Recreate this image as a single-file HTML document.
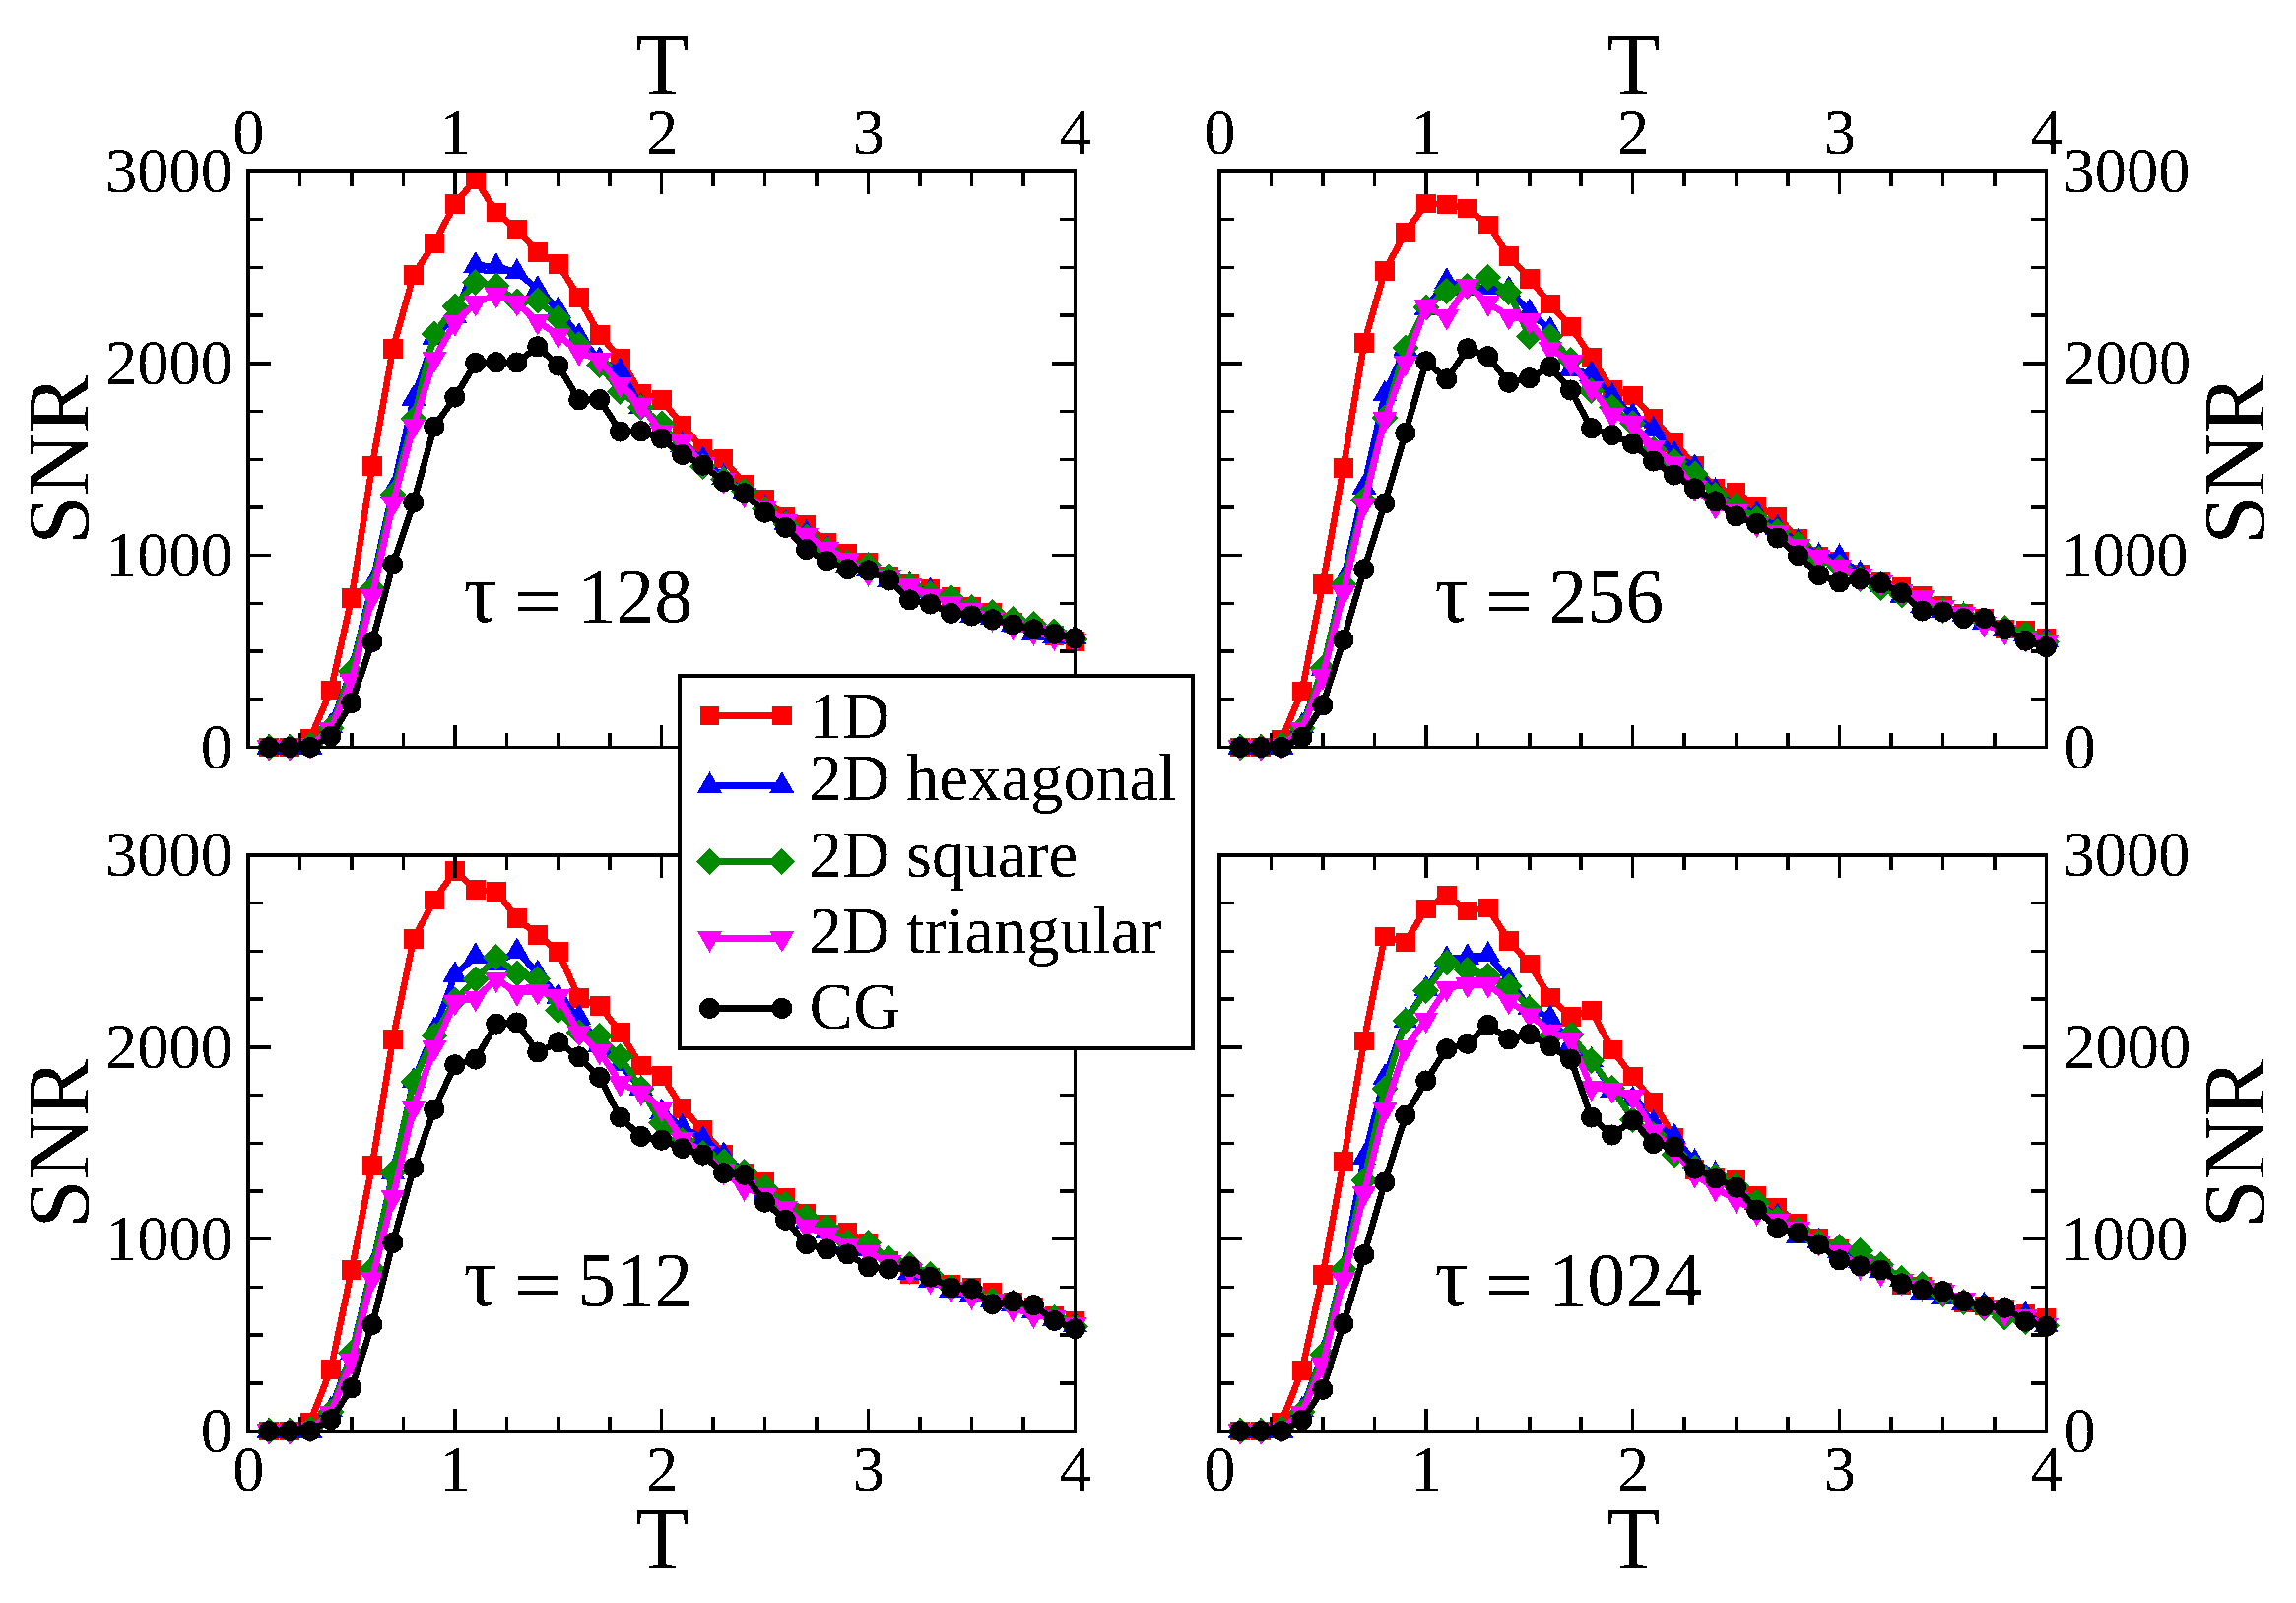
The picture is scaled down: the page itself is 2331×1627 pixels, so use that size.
<!DOCTYPE html>
<html><head><meta charset="utf-8"><title>SNR</title>
<style>
html,body{margin:0;padding:0;background:#fff;}
svg{display:block}
text{font-family:"Liberation Serif",serif;fill:#000}
.tk{font-size:64.5px}
.ax{font-size:88.5px}
.an{font-size:78px}
.lg{font-size:66.8px}
</style></head><body>
<svg width="2331" height="1627" viewBox="0 0 2331 1627">
<rect width="2331" height="1627" fill="#fff"/>

<g shape-rendering="crispEdges">
<g><polyline fill="none" stroke="#ff0000" stroke-width="6.6" stroke-linejoin="round" points="273.0,758.5 294.0,758.5 315.0,749.8 335.9,700.6 356.9,607.0 377.9,472.9 398.9,353.9 419.9,278.9 440.9,246.8 461.9,207.1 482.8,181.8 503.8,215.4 524.8,232.9 545.8,256.0 566.8,267.9 587.8,301.9 608.7,340.0 629.7,363.8 650.7,399.8 671.7,405.8 692.7,431.8 713.7,455.5 734.7,465.7 755.6,491.9 776.6,506.9 797.6,524.8 818.6,532.9 839.6,550.9 860.6,561.8 881.5,571.0 902.5,585.0 923.5,593.0 944.5,597.9 965.5,605.8 986.5,616.0 1007.5,621.9 1028.4,631.7 1049.4,637.7 1070.4,644.9 1091.4,650.8"/>
<rect x="263.2" y="748.8" width="19.5" height="19.5" fill="#ff0000"/>
<rect x="284.2" y="748.8" width="19.5" height="19.5" fill="#ff0000"/>
<rect x="305.2" y="740.0" width="19.5" height="19.5" fill="#ff0000"/>
<rect x="326.2" y="690.9" width="19.5" height="19.5" fill="#ff0000"/>
<rect x="347.2" y="597.2" width="19.5" height="19.5" fill="#ff0000"/>
<rect x="368.2" y="463.1" width="19.5" height="19.5" fill="#ff0000"/>
<rect x="389.1" y="344.1" width="19.5" height="19.5" fill="#ff0000"/>
<rect x="410.1" y="269.1" width="19.5" height="19.5" fill="#ff0000"/>
<rect x="431.1" y="237.1" width="19.5" height="19.5" fill="#ff0000"/>
<rect x="452.1" y="197.3" width="19.5" height="19.5" fill="#ff0000"/>
<rect x="473.1" y="172.1" width="19.5" height="19.5" fill="#ff0000"/>
<rect x="494.1" y="205.7" width="19.5" height="19.5" fill="#ff0000"/>
<rect x="515.1" y="223.2" width="19.5" height="19.5" fill="#ff0000"/>
<rect x="536.0" y="246.2" width="19.5" height="19.5" fill="#ff0000"/>
<rect x="557.0" y="258.1" width="19.5" height="19.5" fill="#ff0000"/>
<rect x="578.0" y="292.1" width="19.5" height="19.5" fill="#ff0000"/>
<rect x="599.0" y="330.2" width="19.5" height="19.5" fill="#ff0000"/>
<rect x="620.0" y="354.1" width="19.5" height="19.5" fill="#ff0000"/>
<rect x="641.0" y="390.1" width="19.5" height="19.5" fill="#ff0000"/>
<rect x="662.0" y="396.1" width="19.5" height="19.5" fill="#ff0000"/>
<rect x="682.9" y="422.1" width="19.5" height="19.5" fill="#ff0000"/>
<rect x="703.9" y="445.8" width="19.5" height="19.5" fill="#ff0000"/>
<rect x="724.9" y="455.9" width="19.5" height="19.5" fill="#ff0000"/>
<rect x="745.9" y="482.1" width="19.5" height="19.5" fill="#ff0000"/>
<rect x="766.9" y="497.1" width="19.5" height="19.5" fill="#ff0000"/>
<rect x="787.9" y="515.0" width="19.5" height="19.5" fill="#ff0000"/>
<rect x="808.8" y="523.1" width="19.5" height="19.5" fill="#ff0000"/>
<rect x="829.8" y="541.1" width="19.5" height="19.5" fill="#ff0000"/>
<rect x="850.8" y="552.0" width="19.5" height="19.5" fill="#ff0000"/>
<rect x="871.8" y="561.2" width="19.5" height="19.5" fill="#ff0000"/>
<rect x="892.8" y="575.2" width="19.5" height="19.5" fill="#ff0000"/>
<rect x="913.8" y="583.2" width="19.5" height="19.5" fill="#ff0000"/>
<rect x="934.8" y="588.1" width="19.5" height="19.5" fill="#ff0000"/>
<rect x="955.7" y="596.0" width="19.5" height="19.5" fill="#ff0000"/>
<rect x="976.7" y="606.2" width="19.5" height="19.5" fill="#ff0000"/>
<rect x="997.7" y="612.1" width="19.5" height="19.5" fill="#ff0000"/>
<rect x="1018.7" y="622.0" width="19.5" height="19.5" fill="#ff0000"/>
<rect x="1039.7" y="628.0" width="19.5" height="19.5" fill="#ff0000"/>
<rect x="1060.7" y="635.1" width="19.5" height="19.5" fill="#ff0000"/>
<rect x="1081.7" y="641.0" width="19.5" height="19.5" fill="#ff0000"/>
<polyline fill="none" stroke="#0000ff" stroke-width="6.6" stroke-linejoin="round" points="273.0,758.5 294.0,758.5 315.0,758.5 335.9,737.2 356.9,680.0 377.9,593.0 398.9,497.3 419.9,404.5 440.9,342.5 461.9,321.2 482.8,269.3 503.8,270.5 524.8,276.2 545.8,293.4 566.8,314.4 587.8,341.3 608.7,365.6 629.7,376.5 650.7,412.5 671.7,435.0 692.7,451.4 713.7,466.4 734.7,484.4 755.6,499.0 776.6,516.0 797.6,531.0 818.6,541.3 839.6,557.0 860.6,574.3 881.5,578.0 902.5,589.0 923.5,594.0 944.5,600.0 965.5,614.0 986.5,624.8 1007.5,627.0 1028.4,633.3 1049.4,642.5 1070.4,646.0 1091.4,647.2"/>
<polygon points="273.0,744.2 260.6,765.7 285.4,765.7" fill="#0000ff"/>
<polygon points="294.0,744.2 281.6,765.7 306.4,765.7" fill="#0000ff"/>
<polygon points="315.0,744.2 302.6,765.7 327.4,765.7" fill="#0000ff"/>
<polygon points="335.9,722.9 323.5,744.4 348.3,744.4" fill="#0000ff"/>
<polygon points="356.9,665.7 344.5,687.2 369.3,687.2" fill="#0000ff"/>
<polygon points="377.9,578.7 365.5,600.2 390.3,600.2" fill="#0000ff"/>
<polygon points="398.9,483.0 386.5,504.5 411.3,504.5" fill="#0000ff"/>
<polygon points="419.9,390.2 407.5,411.7 432.3,411.7" fill="#0000ff"/>
<polygon points="440.9,328.2 428.5,349.7 453.3,349.7" fill="#0000ff"/>
<polygon points="461.9,306.9 449.5,328.4 474.2,328.4" fill="#0000ff"/>
<polygon points="482.8,255.0 470.4,276.5 495.2,276.5" fill="#0000ff"/>
<polygon points="503.8,256.2 491.4,277.7 516.2,277.7" fill="#0000ff"/>
<polygon points="524.8,261.9 512.4,283.4 537.2,283.4" fill="#0000ff"/>
<polygon points="545.8,279.1 533.4,300.6 558.2,300.6" fill="#0000ff"/>
<polygon points="566.8,300.1 554.4,321.6 579.2,321.6" fill="#0000ff"/>
<polygon points="587.8,327.0 575.4,348.5 600.2,348.5" fill="#0000ff"/>
<polygon points="608.7,351.3 596.3,372.8 621.1,372.8" fill="#0000ff"/>
<polygon points="629.7,362.2 617.3,383.7 642.1,383.7" fill="#0000ff"/>
<polygon points="650.7,398.2 638.3,419.7 663.1,419.7" fill="#0000ff"/>
<polygon points="671.7,420.7 659.3,442.2 684.1,442.2" fill="#0000ff"/>
<polygon points="692.7,437.1 680.3,458.6 705.1,458.6" fill="#0000ff"/>
<polygon points="713.7,452.1 701.3,473.6 726.1,473.6" fill="#0000ff"/>
<polygon points="734.7,470.1 722.3,491.6 747.1,491.6" fill="#0000ff"/>
<polygon points="755.6,484.7 743.2,506.2 768.0,506.2" fill="#0000ff"/>
<polygon points="776.6,501.7 764.2,523.2 789.0,523.2" fill="#0000ff"/>
<polygon points="797.6,516.7 785.2,538.2 810.0,538.2" fill="#0000ff"/>
<polygon points="818.6,527.0 806.2,548.5 831.0,548.5" fill="#0000ff"/>
<polygon points="839.6,542.7 827.2,564.2 852.0,564.2" fill="#0000ff"/>
<polygon points="860.6,560.0 848.2,581.5 873.0,581.5" fill="#0000ff"/>
<polygon points="881.5,563.7 869.1,585.2 893.9,585.2" fill="#0000ff"/>
<polygon points="902.5,574.7 890.1,596.2 914.9,596.2" fill="#0000ff"/>
<polygon points="923.5,579.7 911.1,601.2 935.9,601.2" fill="#0000ff"/>
<polygon points="944.5,585.7 932.1,607.2 956.9,607.2" fill="#0000ff"/>
<polygon points="965.5,599.7 953.1,621.2 977.9,621.2" fill="#0000ff"/>
<polygon points="986.5,610.5 974.1,632.0 998.9,632.0" fill="#0000ff"/>
<polygon points="1007.5,612.7 995.1,634.2 1019.9,634.2" fill="#0000ff"/>
<polygon points="1028.4,619.0 1016.0,640.5 1040.8,640.5" fill="#0000ff"/>
<polygon points="1049.4,628.2 1037.0,649.7 1061.8,649.7" fill="#0000ff"/>
<polygon points="1070.4,631.7 1058.0,653.2 1082.8,653.2" fill="#0000ff"/>
<polygon points="1091.4,632.9 1079.0,654.4 1103.8,654.4" fill="#0000ff"/>
<polyline fill="none" stroke="#008b00" stroke-width="6.6" stroke-linejoin="round" points="273.0,758.5 294.0,758.5 315.0,756.4 335.9,739.4 356.9,681.5 377.9,597.0 398.9,501.8 419.9,425.2 440.9,339.2 461.9,310.8 482.8,286.7 503.8,290.0 524.8,306.1 545.8,305.0 566.8,322.6 587.8,349.5 608.7,370.3 629.7,397.5 650.7,413.3 671.7,430.2 692.7,455.4 713.7,473.6 734.7,486.5 755.6,498.3 776.6,516.3 797.6,532.0 818.6,545.0 839.6,558.1 860.6,571.2 881.5,573.3 902.5,585.0 923.5,594.1 944.5,602.3 965.5,606.1 986.5,616.2 1007.5,621.9 1028.4,628.8 1049.4,633.5 1070.4,641.1 1091.4,649.0"/>
<polygon points="273.0,745.0 259.5,758.5 273.0,772.0 286.5,758.5" fill="#008b00"/>
<polygon points="294.0,745.0 280.5,758.5 294.0,772.0 307.5,758.5" fill="#008b00"/>
<polygon points="315.0,742.9 301.5,756.4 315.0,769.9 328.5,756.4" fill="#008b00"/>
<polygon points="335.9,725.9 322.4,739.4 335.9,752.9 349.4,739.4" fill="#008b00"/>
<polygon points="356.9,668.0 343.4,681.5 356.9,695.0 370.4,681.5" fill="#008b00"/>
<polygon points="377.9,583.5 364.4,597.0 377.9,610.5 391.4,597.0" fill="#008b00"/>
<polygon points="398.9,488.3 385.4,501.8 398.9,515.3 412.4,501.8" fill="#008b00"/>
<polygon points="419.9,411.7 406.4,425.2 419.9,438.7 433.4,425.2" fill="#008b00"/>
<polygon points="440.9,325.7 427.4,339.2 440.9,352.7 454.4,339.2" fill="#008b00"/>
<polygon points="461.9,297.3 448.4,310.8 461.9,324.3 475.4,310.8" fill="#008b00"/>
<polygon points="482.8,273.2 469.3,286.7 482.8,300.2 496.3,286.7" fill="#008b00"/>
<polygon points="503.8,276.5 490.3,290.0 503.8,303.5 517.3,290.0" fill="#008b00"/>
<polygon points="524.8,292.6 511.3,306.1 524.8,319.6 538.3,306.1" fill="#008b00"/>
<polygon points="545.8,291.5 532.3,305.0 545.8,318.5 559.3,305.0" fill="#008b00"/>
<polygon points="566.8,309.1 553.3,322.6 566.8,336.1 580.3,322.6" fill="#008b00"/>
<polygon points="587.8,336.0 574.3,349.5 587.8,363.0 601.3,349.5" fill="#008b00"/>
<polygon points="608.7,356.8 595.2,370.3 608.7,383.8 622.2,370.3" fill="#008b00"/>
<polygon points="629.7,384.0 616.2,397.5 629.7,411.0 643.2,397.5" fill="#008b00"/>
<polygon points="650.7,399.8 637.2,413.3 650.7,426.8 664.2,413.3" fill="#008b00"/>
<polygon points="671.7,416.7 658.2,430.2 671.7,443.7 685.2,430.2" fill="#008b00"/>
<polygon points="692.7,441.9 679.2,455.4 692.7,468.9 706.2,455.4" fill="#008b00"/>
<polygon points="713.7,460.1 700.2,473.6 713.7,487.1 727.2,473.6" fill="#008b00"/>
<polygon points="734.7,473.0 721.2,486.5 734.7,500.0 748.2,486.5" fill="#008b00"/>
<polygon points="755.6,484.8 742.1,498.3 755.6,511.8 769.1,498.3" fill="#008b00"/>
<polygon points="776.6,502.8 763.1,516.3 776.6,529.8 790.1,516.3" fill="#008b00"/>
<polygon points="797.6,518.5 784.1,532.0 797.6,545.5 811.1,532.0" fill="#008b00"/>
<polygon points="818.6,531.5 805.1,545.0 818.6,558.5 832.1,545.0" fill="#008b00"/>
<polygon points="839.6,544.6 826.1,558.1 839.6,571.6 853.1,558.1" fill="#008b00"/>
<polygon points="860.6,557.7 847.1,571.2 860.6,584.7 874.1,571.2" fill="#008b00"/>
<polygon points="881.5,559.8 868.0,573.3 881.5,586.8 895.0,573.3" fill="#008b00"/>
<polygon points="902.5,571.5 889.0,585.0 902.5,598.5 916.0,585.0" fill="#008b00"/>
<polygon points="923.5,580.6 910.0,594.1 923.5,607.6 937.0,594.1" fill="#008b00"/>
<polygon points="944.5,588.8 931.0,602.3 944.5,615.8 958.0,602.3" fill="#008b00"/>
<polygon points="965.5,592.6 952.0,606.1 965.5,619.6 979.0,606.1" fill="#008b00"/>
<polygon points="986.5,602.7 973.0,616.2 986.5,629.7 1000.0,616.2" fill="#008b00"/>
<polygon points="1007.5,608.4 994.0,621.9 1007.5,635.4 1021.0,621.9" fill="#008b00"/>
<polygon points="1028.4,615.3 1014.9,628.8 1028.4,642.3 1041.9,628.8" fill="#008b00"/>
<polygon points="1049.4,620.0 1035.9,633.5 1049.4,647.0 1062.9,633.5" fill="#008b00"/>
<polygon points="1070.4,627.6 1056.9,641.1 1070.4,654.6 1083.9,641.1" fill="#008b00"/>
<polygon points="1091.4,635.5 1077.9,649.0 1091.4,662.5 1104.9,649.0" fill="#008b00"/>
<polyline fill="none" stroke="#ff00ff" stroke-width="6.6" stroke-linejoin="round" points="273.0,758.5 294.0,758.5 315.0,756.5 335.9,740.4 356.9,691.0 377.9,605.4 398.9,511.0 419.9,431.9 440.9,364.4 461.9,327.4 482.8,307.2 503.8,299.2 524.8,307.2 545.8,326.2 566.8,340.1 587.8,357.6 608.7,365.6 629.7,390.0 650.7,411.6 671.7,438.3 692.7,448.3 713.7,471.4 734.7,487.5 755.6,502.0 776.6,515.4 797.6,529.6 818.6,543.1 839.6,557.2 860.6,568.2 881.5,581.6 902.5,586.1 923.5,594.4 944.5,605.1 965.5,612.0 986.5,619.0 1007.5,627.7 1028.4,635.9 1049.4,641.6 1070.4,646.6 1091.4,649.8"/>
<polygon points="273.0,772.8 260.6,751.3 285.4,751.3" fill="#ff00ff"/>
<polygon points="294.0,772.8 281.6,751.3 306.4,751.3" fill="#ff00ff"/>
<polygon points="315.0,770.8 302.6,749.3 327.4,749.3" fill="#ff00ff"/>
<polygon points="335.9,754.7 323.5,733.2 348.3,733.2" fill="#ff00ff"/>
<polygon points="356.9,705.3 344.5,683.8 369.3,683.8" fill="#ff00ff"/>
<polygon points="377.9,619.7 365.5,598.2 390.3,598.2" fill="#ff00ff"/>
<polygon points="398.9,525.3 386.5,503.8 411.3,503.8" fill="#ff00ff"/>
<polygon points="419.9,446.2 407.5,424.7 432.3,424.7" fill="#ff00ff"/>
<polygon points="440.9,378.7 428.5,357.2 453.3,357.2" fill="#ff00ff"/>
<polygon points="461.9,341.7 449.5,320.2 474.2,320.2" fill="#ff00ff"/>
<polygon points="482.8,321.5 470.4,300.0 495.2,300.0" fill="#ff00ff"/>
<polygon points="503.8,313.5 491.4,292.0 516.2,292.0" fill="#ff00ff"/>
<polygon points="524.8,321.5 512.4,300.0 537.2,300.0" fill="#ff00ff"/>
<polygon points="545.8,340.5 533.4,319.0 558.2,319.0" fill="#ff00ff"/>
<polygon points="566.8,354.4 554.4,332.9 579.2,332.9" fill="#ff00ff"/>
<polygon points="587.8,371.9 575.4,350.4 600.2,350.4" fill="#ff00ff"/>
<polygon points="608.7,379.9 596.3,358.4 621.1,358.4" fill="#ff00ff"/>
<polygon points="629.7,404.3 617.3,382.8 642.1,382.8" fill="#ff00ff"/>
<polygon points="650.7,425.9 638.3,404.4 663.1,404.4" fill="#ff00ff"/>
<polygon points="671.7,452.6 659.3,431.1 684.1,431.1" fill="#ff00ff"/>
<polygon points="692.7,462.6 680.3,441.1 705.1,441.1" fill="#ff00ff"/>
<polygon points="713.7,485.7 701.3,464.2 726.1,464.2" fill="#ff00ff"/>
<polygon points="734.7,501.8 722.3,480.3 747.1,480.3" fill="#ff00ff"/>
<polygon points="755.6,516.3 743.2,494.8 768.0,494.8" fill="#ff00ff"/>
<polygon points="776.6,529.7 764.2,508.2 789.0,508.2" fill="#ff00ff"/>
<polygon points="797.6,543.9 785.2,522.4 810.0,522.4" fill="#ff00ff"/>
<polygon points="818.6,557.4 806.2,535.9 831.0,535.9" fill="#ff00ff"/>
<polygon points="839.6,571.5 827.2,550.0 852.0,550.0" fill="#ff00ff"/>
<polygon points="860.6,582.5 848.2,561.0 873.0,561.0" fill="#ff00ff"/>
<polygon points="881.5,595.9 869.1,574.4 893.9,574.4" fill="#ff00ff"/>
<polygon points="902.5,600.4 890.1,578.9 914.9,578.9" fill="#ff00ff"/>
<polygon points="923.5,608.7 911.1,587.2 935.9,587.2" fill="#ff00ff"/>
<polygon points="944.5,619.4 932.1,597.9 956.9,597.9" fill="#ff00ff"/>
<polygon points="965.5,626.3 953.1,604.8 977.9,604.8" fill="#ff00ff"/>
<polygon points="986.5,633.3 974.1,611.8 998.9,611.8" fill="#ff00ff"/>
<polygon points="1007.5,642.0 995.1,620.5 1019.9,620.5" fill="#ff00ff"/>
<polygon points="1028.4,650.2 1016.0,628.7 1040.8,628.7" fill="#ff00ff"/>
<polygon points="1049.4,655.9 1037.0,634.4 1061.8,634.4" fill="#ff00ff"/>
<polygon points="1070.4,660.9 1058.0,639.4 1082.8,639.4" fill="#ff00ff"/>
<polygon points="1091.4,664.1 1079.0,642.6 1103.8,642.6" fill="#ff00ff"/>
<polyline fill="none" stroke="#000000" stroke-width="6.6" stroke-linejoin="round" points="273.0,758.5 294.0,758.5 315.0,758.5 335.9,747.2 356.9,713.5 377.9,651.5 398.9,573.0 419.9,510.1 440.9,433.2 461.9,403.1 482.8,368.4 503.8,367.7 524.8,368.0 545.8,351.9 566.8,371.1 587.8,405.9 608.7,405.6 629.7,438.1 650.7,437.8 671.7,445.0 692.7,461.5 713.7,472.3 734.7,488.7 755.6,500.7 776.6,520.2 797.6,535.5 818.6,557.6 839.6,569.7 860.6,577.7 881.5,578.9 902.5,589.0 923.5,608.9 944.5,613.0 965.5,622.5 986.5,625.0 1007.5,628.8 1028.4,634.1 1049.4,638.9 1070.4,643.4 1091.4,647.8"/>
<circle cx="273.0" cy="758.5" r="10.55" fill="#000000"/>
<circle cx="294.0" cy="758.5" r="10.55" fill="#000000"/>
<circle cx="315.0" cy="758.5" r="10.55" fill="#000000"/>
<circle cx="335.9" cy="747.2" r="10.55" fill="#000000"/>
<circle cx="356.9" cy="713.5" r="10.55" fill="#000000"/>
<circle cx="377.9" cy="651.5" r="10.55" fill="#000000"/>
<circle cx="398.9" cy="573.0" r="10.55" fill="#000000"/>
<circle cx="419.9" cy="510.1" r="10.55" fill="#000000"/>
<circle cx="440.9" cy="433.2" r="10.55" fill="#000000"/>
<circle cx="461.9" cy="403.1" r="10.55" fill="#000000"/>
<circle cx="482.8" cy="368.4" r="10.55" fill="#000000"/>
<circle cx="503.8" cy="367.7" r="10.55" fill="#000000"/>
<circle cx="524.8" cy="368.0" r="10.55" fill="#000000"/>
<circle cx="545.8" cy="351.9" r="10.55" fill="#000000"/>
<circle cx="566.8" cy="371.1" r="10.55" fill="#000000"/>
<circle cx="587.8" cy="405.9" r="10.55" fill="#000000"/>
<circle cx="608.7" cy="405.6" r="10.55" fill="#000000"/>
<circle cx="629.7" cy="438.1" r="10.55" fill="#000000"/>
<circle cx="650.7" cy="437.8" r="10.55" fill="#000000"/>
<circle cx="671.7" cy="445.0" r="10.55" fill="#000000"/>
<circle cx="692.7" cy="461.5" r="10.55" fill="#000000"/>
<circle cx="713.7" cy="472.3" r="10.55" fill="#000000"/>
<circle cx="734.7" cy="488.7" r="10.55" fill="#000000"/>
<circle cx="755.6" cy="500.7" r="10.55" fill="#000000"/>
<circle cx="776.6" cy="520.2" r="10.55" fill="#000000"/>
<circle cx="797.6" cy="535.5" r="10.55" fill="#000000"/>
<circle cx="818.6" cy="557.6" r="10.55" fill="#000000"/>
<circle cx="839.6" cy="569.7" r="10.55" fill="#000000"/>
<circle cx="860.6" cy="577.7" r="10.55" fill="#000000"/>
<circle cx="881.5" cy="578.9" r="10.55" fill="#000000"/>
<circle cx="902.5" cy="589.0" r="10.55" fill="#000000"/>
<circle cx="923.5" cy="608.9" r="10.55" fill="#000000"/>
<circle cx="944.5" cy="613.0" r="10.55" fill="#000000"/>
<circle cx="965.5" cy="622.5" r="10.55" fill="#000000"/>
<circle cx="986.5" cy="625.0" r="10.55" fill="#000000"/>
<circle cx="1007.5" cy="628.8" r="10.55" fill="#000000"/>
<circle cx="1028.4" cy="634.1" r="10.55" fill="#000000"/>
<circle cx="1049.4" cy="638.9" r="10.55" fill="#000000"/>
<circle cx="1070.4" cy="643.4" r="10.55" fill="#000000"/>
<circle cx="1091.4" cy="647.8" r="10.55" fill="#000000"/>
<path d="M304.46,174.00v15M304.46,758.50v-15M356.93,174.00v15M356.93,758.50v-15M409.39,174.00v15M409.39,758.50v-15M461.85,174.00v23M461.85,758.50v-23M514.31,174.00v15M514.31,758.50v-15M566.77,174.00v15M566.77,758.50v-15M619.24,174.00v15M619.24,758.50v-15M671.70,174.00v23M671.70,758.50v-23M724.16,174.00v15M724.16,758.50v-15M776.62,174.00v15M776.62,758.50v-15M829.09,174.00v15M829.09,758.50v-15M881.55,174.00v23M881.55,758.50v-23M934.01,174.00v15M934.01,758.50v-15M986.48,174.00v15M986.48,758.50v-15M1038.94,174.00v15M1038.94,758.50v-15M252.00,709.79h15M1091.40,709.79h-15M252.00,661.08h15M1091.40,661.08h-15M252.00,612.38h15M1091.40,612.38h-15M252.00,563.67h23M1091.40,563.67h-23M252.00,514.96h15M1091.40,514.96h-15M252.00,466.25h15M1091.40,466.25h-15M252.00,417.54h15M1091.40,417.54h-15M252.00,368.83h23M1091.40,368.83h-23M252.00,320.12h15M1091.40,320.12h-15M252.00,271.42h15M1091.40,271.42h-15M252.00,222.71h15M1091.40,222.71h-15" stroke="#000" stroke-width="3.5" fill="none"/>
<path fill-rule="evenodd" fill="#000" d="M250,172H1093V760H250ZM254,176H1090V757H254Z"/></g>
<g><polyline fill="none" stroke="#ff0000" stroke-width="6.6" stroke-linejoin="round" points="1259.0,758.5 1280.0,758.5 1301.0,750.6 1321.9,701.4 1342.9,593.0 1363.9,474.9 1384.9,348.2 1405.9,274.8 1426.9,236.0 1447.8,206.6 1468.8,207.7 1489.8,211.5 1510.8,228.5 1531.8,259.8 1552.8,282.8 1573.8,308.7 1594.7,331.4 1615.7,362.7 1636.7,396.0 1657.7,401.6 1678.7,424.9 1699.7,448.8 1720.7,472.8 1741.6,496.0 1762.6,499.7 1783.6,513.7 1804.6,524.9 1825.6,546.7 1846.6,564.6 1867.5,570.0 1888.5,582.5 1909.5,590.3 1930.5,595.6 1951.5,605.0 1972.5,614.6 1993.5,622.5 2014.4,627.6 2035.4,638.3 2056.4,639.6 2077.4,647.5"/>
<rect x="1249.2" y="748.8" width="19.5" height="19.5" fill="#ff0000"/>
<rect x="1270.2" y="748.8" width="19.5" height="19.5" fill="#ff0000"/>
<rect x="1291.2" y="740.9" width="19.5" height="19.5" fill="#ff0000"/>
<rect x="1312.2" y="691.6" width="19.5" height="19.5" fill="#ff0000"/>
<rect x="1333.2" y="583.2" width="19.5" height="19.5" fill="#ff0000"/>
<rect x="1354.2" y="465.1" width="19.5" height="19.5" fill="#ff0000"/>
<rect x="1375.1" y="338.4" width="19.5" height="19.5" fill="#ff0000"/>
<rect x="1396.1" y="265.1" width="19.5" height="19.5" fill="#ff0000"/>
<rect x="1417.1" y="226.2" width="19.5" height="19.5" fill="#ff0000"/>
<rect x="1438.1" y="196.8" width="19.5" height="19.5" fill="#ff0000"/>
<rect x="1459.1" y="197.9" width="19.5" height="19.5" fill="#ff0000"/>
<rect x="1480.1" y="201.8" width="19.5" height="19.5" fill="#ff0000"/>
<rect x="1501.1" y="218.8" width="19.5" height="19.5" fill="#ff0000"/>
<rect x="1522.0" y="250.1" width="19.5" height="19.5" fill="#ff0000"/>
<rect x="1543.0" y="273.1" width="19.5" height="19.5" fill="#ff0000"/>
<rect x="1564.0" y="298.9" width="19.5" height="19.5" fill="#ff0000"/>
<rect x="1585.0" y="321.6" width="19.5" height="19.5" fill="#ff0000"/>
<rect x="1606.0" y="352.9" width="19.5" height="19.5" fill="#ff0000"/>
<rect x="1627.0" y="386.2" width="19.5" height="19.5" fill="#ff0000"/>
<rect x="1648.0" y="391.9" width="19.5" height="19.5" fill="#ff0000"/>
<rect x="1668.9" y="415.1" width="19.5" height="19.5" fill="#ff0000"/>
<rect x="1689.9" y="439.1" width="19.5" height="19.5" fill="#ff0000"/>
<rect x="1710.9" y="463.1" width="19.5" height="19.5" fill="#ff0000"/>
<rect x="1731.9" y="486.2" width="19.5" height="19.5" fill="#ff0000"/>
<rect x="1752.9" y="489.9" width="19.5" height="19.5" fill="#ff0000"/>
<rect x="1773.9" y="504.0" width="19.5" height="19.5" fill="#ff0000"/>
<rect x="1794.8" y="515.1" width="19.5" height="19.5" fill="#ff0000"/>
<rect x="1815.8" y="537.0" width="19.5" height="19.5" fill="#ff0000"/>
<rect x="1836.8" y="554.9" width="19.5" height="19.5" fill="#ff0000"/>
<rect x="1857.8" y="560.2" width="19.5" height="19.5" fill="#ff0000"/>
<rect x="1878.8" y="572.8" width="19.5" height="19.5" fill="#ff0000"/>
<rect x="1899.8" y="580.5" width="19.5" height="19.5" fill="#ff0000"/>
<rect x="1920.8" y="585.9" width="19.5" height="19.5" fill="#ff0000"/>
<rect x="1941.7" y="595.2" width="19.5" height="19.5" fill="#ff0000"/>
<rect x="1962.7" y="604.9" width="19.5" height="19.5" fill="#ff0000"/>
<rect x="1983.7" y="612.8" width="19.5" height="19.5" fill="#ff0000"/>
<rect x="2004.7" y="617.9" width="19.5" height="19.5" fill="#ff0000"/>
<rect x="2025.7" y="628.5" width="19.5" height="19.5" fill="#ff0000"/>
<rect x="2046.7" y="629.9" width="19.5" height="19.5" fill="#ff0000"/>
<rect x="2067.7" y="637.8" width="19.5" height="19.5" fill="#ff0000"/>
<polyline fill="none" stroke="#0000ff" stroke-width="6.6" stroke-linejoin="round" points="1259.0,758.5 1280.0,758.5 1301.0,758.5 1321.9,737.0 1342.9,679.2 1363.9,589.0 1384.9,494.4 1405.9,400.0 1426.9,353.7 1447.8,313.0 1468.8,285.4 1489.8,293.0 1510.8,291.9 1531.8,293.6 1552.8,316.8 1573.8,334.8 1594.7,375.0 1615.7,379.6 1636.7,402.1 1657.7,422.0 1678.7,435.7 1699.7,460.4 1720.7,474.5 1741.6,498.3 1762.6,514.0 1783.6,521.5 1804.6,535.7 1825.6,550.5 1846.6,564.3 1867.5,565.4 1888.5,582.2 1909.5,594.1 1930.5,605.2 1951.5,615.0 1972.5,619.7 1993.5,624.2 2014.4,631.5 2035.4,638.3 2056.4,643.7 2077.4,649.4"/>
<polygon points="1259.0,744.2 1246.6,765.7 1271.4,765.7" fill="#0000ff"/>
<polygon points="1280.0,744.2 1267.6,765.7 1292.4,765.7" fill="#0000ff"/>
<polygon points="1301.0,744.2 1288.6,765.7 1313.4,765.7" fill="#0000ff"/>
<polygon points="1321.9,722.7 1309.5,744.2 1334.3,744.2" fill="#0000ff"/>
<polygon points="1342.9,664.9 1330.5,686.4 1355.3,686.4" fill="#0000ff"/>
<polygon points="1363.9,574.7 1351.5,596.2 1376.3,596.2" fill="#0000ff"/>
<polygon points="1384.9,480.1 1372.5,501.6 1397.3,501.6" fill="#0000ff"/>
<polygon points="1405.9,385.7 1393.5,407.2 1418.3,407.2" fill="#0000ff"/>
<polygon points="1426.9,339.4 1414.5,360.9 1439.3,360.9" fill="#0000ff"/>
<polygon points="1447.8,298.7 1435.4,320.2 1460.2,320.2" fill="#0000ff"/>
<polygon points="1468.8,271.1 1456.4,292.6 1481.2,292.6" fill="#0000ff"/>
<polygon points="1489.8,278.7 1477.4,300.2 1502.2,300.2" fill="#0000ff"/>
<polygon points="1510.8,277.6 1498.4,299.1 1523.2,299.1" fill="#0000ff"/>
<polygon points="1531.8,279.3 1519.4,300.8 1544.2,300.8" fill="#0000ff"/>
<polygon points="1552.8,302.5 1540.4,324.0 1565.2,324.0" fill="#0000ff"/>
<polygon points="1573.8,320.5 1561.4,342.0 1586.2,342.0" fill="#0000ff"/>
<polygon points="1594.7,360.7 1582.3,382.2 1607.1,382.2" fill="#0000ff"/>
<polygon points="1615.7,365.3 1603.3,386.8 1628.1,386.8" fill="#0000ff"/>
<polygon points="1636.7,387.8 1624.3,409.3 1649.1,409.3" fill="#0000ff"/>
<polygon points="1657.7,407.7 1645.3,429.2 1670.1,429.2" fill="#0000ff"/>
<polygon points="1678.7,421.4 1666.3,442.9 1691.1,442.9" fill="#0000ff"/>
<polygon points="1699.7,446.1 1687.3,467.6 1712.1,467.6" fill="#0000ff"/>
<polygon points="1720.7,460.2 1708.3,481.7 1733.1,481.7" fill="#0000ff"/>
<polygon points="1741.6,484.0 1729.2,505.5 1754.0,505.5" fill="#0000ff"/>
<polygon points="1762.6,499.7 1750.2,521.2 1775.0,521.2" fill="#0000ff"/>
<polygon points="1783.6,507.2 1771.2,528.7 1796.0,528.7" fill="#0000ff"/>
<polygon points="1804.6,521.4 1792.2,542.9 1817.0,542.9" fill="#0000ff"/>
<polygon points="1825.6,536.2 1813.2,557.7 1838.0,557.7" fill="#0000ff"/>
<polygon points="1846.6,550.0 1834.2,571.5 1859.0,571.5" fill="#0000ff"/>
<polygon points="1867.5,551.1 1855.1,572.6 1880.0,572.6" fill="#0000ff"/>
<polygon points="1888.5,567.9 1876.1,589.4 1900.9,589.4" fill="#0000ff"/>
<polygon points="1909.5,579.8 1897.1,601.3 1921.9,601.3" fill="#0000ff"/>
<polygon points="1930.5,590.9 1918.1,612.4 1942.9,612.4" fill="#0000ff"/>
<polygon points="1951.5,600.7 1939.1,622.2 1963.9,622.2" fill="#0000ff"/>
<polygon points="1972.5,605.4 1960.1,626.9 1984.9,626.9" fill="#0000ff"/>
<polygon points="1993.5,609.9 1981.1,631.4 2005.9,631.4" fill="#0000ff"/>
<polygon points="2014.4,617.2 2002.0,638.7 2026.8,638.7" fill="#0000ff"/>
<polygon points="2035.4,624.0 2023.0,645.5 2047.8,645.5" fill="#0000ff"/>
<polygon points="2056.4,629.4 2044.0,650.9 2068.8,650.9" fill="#0000ff"/>
<polygon points="2077.4,635.1 2065.0,656.6 2089.8,656.6" fill="#0000ff"/>
<polyline fill="none" stroke="#008b00" stroke-width="6.6" stroke-linejoin="round" points="1259.0,758.5 1280.0,758.5 1301.0,756.4 1321.9,739.4 1342.9,677.9 1363.9,592.8 1384.9,507.5 1405.9,424.4 1426.9,352.7 1447.8,312.0 1468.8,295.5 1489.8,290.5 1510.8,281.6 1531.8,296.5 1552.8,341.5 1573.8,341.5 1594.7,365.5 1615.7,396.5 1636.7,413.8 1657.7,429.5 1678.7,455.9 1699.7,468.6 1720.7,480.9 1741.6,502.5 1762.6,513.4 1783.6,526.9 1804.6,539.6 1825.6,552.5 1846.6,567.5 1867.5,575.8 1888.5,587.4 1909.5,596.1 1930.5,604.0 1951.5,611.0 1972.5,619.6 1993.5,624.7 2014.4,630.0 2035.4,637.7 2056.4,643.6 2077.4,651.8"/>
<polygon points="1259.0,745.0 1245.5,758.5 1259.0,772.0 1272.5,758.5" fill="#008b00"/>
<polygon points="1280.0,745.0 1266.5,758.5 1280.0,772.0 1293.5,758.5" fill="#008b00"/>
<polygon points="1301.0,742.9 1287.5,756.4 1301.0,769.9 1314.5,756.4" fill="#008b00"/>
<polygon points="1321.9,725.9 1308.4,739.4 1321.9,752.9 1335.4,739.4" fill="#008b00"/>
<polygon points="1342.9,664.4 1329.4,677.9 1342.9,691.4 1356.4,677.9" fill="#008b00"/>
<polygon points="1363.9,579.3 1350.4,592.8 1363.9,606.3 1377.4,592.8" fill="#008b00"/>
<polygon points="1384.9,494.0 1371.4,507.5 1384.9,521.0 1398.4,507.5" fill="#008b00"/>
<polygon points="1405.9,410.9 1392.4,424.4 1405.9,437.9 1419.4,424.4" fill="#008b00"/>
<polygon points="1426.9,339.2 1413.4,352.7 1426.9,366.2 1440.4,352.7" fill="#008b00"/>
<polygon points="1447.8,298.5 1434.3,312.0 1447.8,325.5 1461.3,312.0" fill="#008b00"/>
<polygon points="1468.8,282.0 1455.3,295.5 1468.8,309.0 1482.3,295.5" fill="#008b00"/>
<polygon points="1489.8,277.0 1476.3,290.5 1489.8,304.0 1503.3,290.5" fill="#008b00"/>
<polygon points="1510.8,268.1 1497.3,281.6 1510.8,295.1 1524.3,281.6" fill="#008b00"/>
<polygon points="1531.8,283.0 1518.3,296.5 1531.8,310.0 1545.3,296.5" fill="#008b00"/>
<polygon points="1552.8,328.0 1539.3,341.5 1552.8,355.0 1566.3,341.5" fill="#008b00"/>
<polygon points="1573.8,328.0 1560.3,341.5 1573.8,355.0 1587.3,341.5" fill="#008b00"/>
<polygon points="1594.7,352.0 1581.2,365.5 1594.7,379.0 1608.2,365.5" fill="#008b00"/>
<polygon points="1615.7,383.0 1602.2,396.5 1615.7,410.0 1629.2,396.5" fill="#008b00"/>
<polygon points="1636.7,400.3 1623.2,413.8 1636.7,427.3 1650.2,413.8" fill="#008b00"/>
<polygon points="1657.7,416.0 1644.2,429.5 1657.7,443.0 1671.2,429.5" fill="#008b00"/>
<polygon points="1678.7,442.4 1665.2,455.9 1678.7,469.4 1692.2,455.9" fill="#008b00"/>
<polygon points="1699.7,455.1 1686.2,468.6 1699.7,482.1 1713.2,468.6" fill="#008b00"/>
<polygon points="1720.7,467.4 1707.2,480.9 1720.7,494.4 1734.2,480.9" fill="#008b00"/>
<polygon points="1741.6,489.0 1728.1,502.5 1741.6,516.0 1755.1,502.5" fill="#008b00"/>
<polygon points="1762.6,499.9 1749.1,513.4 1762.6,526.9 1776.1,513.4" fill="#008b00"/>
<polygon points="1783.6,513.4 1770.1,526.9 1783.6,540.4 1797.1,526.9" fill="#008b00"/>
<polygon points="1804.6,526.1 1791.1,539.6 1804.6,553.1 1818.1,539.6" fill="#008b00"/>
<polygon points="1825.6,539.0 1812.1,552.5 1825.6,566.0 1839.1,552.5" fill="#008b00"/>
<polygon points="1846.6,554.0 1833.1,567.5 1846.6,581.0 1860.1,567.5" fill="#008b00"/>
<polygon points="1867.5,562.3 1854.0,575.8 1867.5,589.3 1881.0,575.8" fill="#008b00"/>
<polygon points="1888.5,573.9 1875.0,587.4 1888.5,600.9 1902.0,587.4" fill="#008b00"/>
<polygon points="1909.5,582.6 1896.0,596.1 1909.5,609.6 1923.0,596.1" fill="#008b00"/>
<polygon points="1930.5,590.5 1917.0,604.0 1930.5,617.5 1944.0,604.0" fill="#008b00"/>
<polygon points="1951.5,597.5 1938.0,611.0 1951.5,624.5 1965.0,611.0" fill="#008b00"/>
<polygon points="1972.5,606.1 1959.0,619.6 1972.5,633.1 1986.0,619.6" fill="#008b00"/>
<polygon points="1993.5,611.2 1980.0,624.7 1993.5,638.2 2007.0,624.7" fill="#008b00"/>
<polygon points="2014.4,616.5 2000.9,630.0 2014.4,643.5 2027.9,630.0" fill="#008b00"/>
<polygon points="2035.4,624.2 2021.9,637.7 2035.4,651.2 2048.9,637.7" fill="#008b00"/>
<polygon points="2056.4,630.1 2042.9,643.6 2056.4,657.1 2069.9,643.6" fill="#008b00"/>
<polygon points="2077.4,638.3 2063.9,651.8 2077.4,665.3 2090.9,651.8" fill="#008b00"/>
<polyline fill="none" stroke="#ff00ff" stroke-width="6.6" stroke-linejoin="round" points="1259.0,758.5 1280.0,758.5 1301.0,756.5 1321.9,740.4 1342.9,686.5 1363.9,601.3 1384.9,511.7 1405.9,425.3 1426.9,368.1 1447.8,311.5 1468.8,321.2 1489.8,289.8 1510.8,307.5 1531.8,321.2 1552.8,325.4 1573.8,353.9 1594.7,367.6 1615.7,393.8 1636.7,421.2 1657.7,429.3 1678.7,454.0 1699.7,470.5 1720.7,495.3 1741.6,513.3 1762.6,519.6 1783.6,532.0 1804.6,540.5 1825.6,554.4 1846.6,564.7 1867.5,575.4 1888.5,585.5 1909.5,591.2 1930.5,600.0 1951.5,606.6 1972.5,616.5 1993.5,623.4 2014.4,633.3 2035.4,641.3 2056.4,648.0 2077.4,652.5"/>
<polygon points="1259.0,772.8 1246.6,751.3 1271.4,751.3" fill="#ff00ff"/>
<polygon points="1280.0,772.8 1267.6,751.3 1292.4,751.3" fill="#ff00ff"/>
<polygon points="1301.0,770.8 1288.6,749.3 1313.4,749.3" fill="#ff00ff"/>
<polygon points="1321.9,754.7 1309.5,733.2 1334.3,733.2" fill="#ff00ff"/>
<polygon points="1342.9,700.8 1330.5,679.3 1355.3,679.3" fill="#ff00ff"/>
<polygon points="1363.9,615.6 1351.5,594.1 1376.3,594.1" fill="#ff00ff"/>
<polygon points="1384.9,526.0 1372.5,504.5 1397.3,504.5" fill="#ff00ff"/>
<polygon points="1405.9,439.6 1393.5,418.1 1418.3,418.1" fill="#ff00ff"/>
<polygon points="1426.9,382.4 1414.5,360.9 1439.3,360.9" fill="#ff00ff"/>
<polygon points="1447.8,325.8 1435.4,304.3 1460.2,304.3" fill="#ff00ff"/>
<polygon points="1468.8,335.5 1456.4,314.0 1481.2,314.0" fill="#ff00ff"/>
<polygon points="1489.8,304.1 1477.4,282.6 1502.2,282.6" fill="#ff00ff"/>
<polygon points="1510.8,321.8 1498.4,300.3 1523.2,300.3" fill="#ff00ff"/>
<polygon points="1531.8,335.5 1519.4,314.0 1544.2,314.0" fill="#ff00ff"/>
<polygon points="1552.8,339.7 1540.4,318.2 1565.2,318.2" fill="#ff00ff"/>
<polygon points="1573.8,368.2 1561.4,346.7 1586.2,346.7" fill="#ff00ff"/>
<polygon points="1594.7,381.9 1582.3,360.4 1607.1,360.4" fill="#ff00ff"/>
<polygon points="1615.7,408.1 1603.3,386.6 1628.1,386.6" fill="#ff00ff"/>
<polygon points="1636.7,435.5 1624.3,414.0 1649.1,414.0" fill="#ff00ff"/>
<polygon points="1657.7,443.6 1645.3,422.1 1670.1,422.1" fill="#ff00ff"/>
<polygon points="1678.7,468.3 1666.3,446.8 1691.1,446.8" fill="#ff00ff"/>
<polygon points="1699.7,484.8 1687.3,463.3 1712.1,463.3" fill="#ff00ff"/>
<polygon points="1720.7,509.6 1708.3,488.1 1733.1,488.1" fill="#ff00ff"/>
<polygon points="1741.6,527.6 1729.2,506.1 1754.0,506.1" fill="#ff00ff"/>
<polygon points="1762.6,533.9 1750.2,512.4 1775.0,512.4" fill="#ff00ff"/>
<polygon points="1783.6,546.3 1771.2,524.8 1796.0,524.8" fill="#ff00ff"/>
<polygon points="1804.6,554.8 1792.2,533.3 1817.0,533.3" fill="#ff00ff"/>
<polygon points="1825.6,568.7 1813.2,547.2 1838.0,547.2" fill="#ff00ff"/>
<polygon points="1846.6,579.0 1834.2,557.5 1859.0,557.5" fill="#ff00ff"/>
<polygon points="1867.5,589.7 1855.1,568.2 1880.0,568.2" fill="#ff00ff"/>
<polygon points="1888.5,599.8 1876.1,578.3 1900.9,578.3" fill="#ff00ff"/>
<polygon points="1909.5,605.5 1897.1,584.0 1921.9,584.0" fill="#ff00ff"/>
<polygon points="1930.5,614.3 1918.1,592.8 1942.9,592.8" fill="#ff00ff"/>
<polygon points="1951.5,620.9 1939.1,599.4 1963.9,599.4" fill="#ff00ff"/>
<polygon points="1972.5,630.8 1960.1,609.3 1984.9,609.3" fill="#ff00ff"/>
<polygon points="1993.5,637.7 1981.1,616.2 2005.9,616.2" fill="#ff00ff"/>
<polygon points="2014.4,647.6 2002.0,626.1 2026.8,626.1" fill="#ff00ff"/>
<polygon points="2035.4,655.6 2023.0,634.1 2047.8,634.1" fill="#ff00ff"/>
<polygon points="2056.4,662.3 2044.0,640.8 2068.8,640.8" fill="#ff00ff"/>
<polygon points="2077.4,666.8 2065.0,645.3 2089.8,645.3" fill="#ff00ff"/>
<polyline fill="none" stroke="#000000" stroke-width="6.6" stroke-linejoin="round" points="1259.0,758.5 1280.0,758.5 1301.0,758.5 1321.9,748.4 1342.9,715.8 1363.9,649.5 1384.9,577.9 1405.9,511.0 1426.9,439.4 1447.8,366.9 1468.8,384.9 1489.8,353.9 1510.8,361.7 1531.8,388.3 1552.8,383.8 1573.8,372.2 1594.7,396.0 1615.7,434.8 1636.7,441.6 1657.7,450.5 1678.7,468.1 1699.7,482.0 1720.7,495.9 1741.6,508.9 1762.6,523.9 1783.6,531.4 1804.6,546.1 1825.6,563.7 1846.6,583.7 1867.5,590.9 1888.5,587.8 1909.5,591.8 1930.5,601.7 1951.5,620.0 1972.5,621.0 1993.5,627.6 2014.4,627.6 2035.4,638.6 2056.4,650.3 2077.4,656.6"/>
<circle cx="1259.0" cy="758.5" r="10.55" fill="#000000"/>
<circle cx="1280.0" cy="758.5" r="10.55" fill="#000000"/>
<circle cx="1301.0" cy="758.5" r="10.55" fill="#000000"/>
<circle cx="1321.9" cy="748.4" r="10.55" fill="#000000"/>
<circle cx="1342.9" cy="715.8" r="10.55" fill="#000000"/>
<circle cx="1363.9" cy="649.5" r="10.55" fill="#000000"/>
<circle cx="1384.9" cy="577.9" r="10.55" fill="#000000"/>
<circle cx="1405.9" cy="511.0" r="10.55" fill="#000000"/>
<circle cx="1426.9" cy="439.4" r="10.55" fill="#000000"/>
<circle cx="1447.8" cy="366.9" r="10.55" fill="#000000"/>
<circle cx="1468.8" cy="384.9" r="10.55" fill="#000000"/>
<circle cx="1489.8" cy="353.9" r="10.55" fill="#000000"/>
<circle cx="1510.8" cy="361.7" r="10.55" fill="#000000"/>
<circle cx="1531.8" cy="388.3" r="10.55" fill="#000000"/>
<circle cx="1552.8" cy="383.8" r="10.55" fill="#000000"/>
<circle cx="1573.8" cy="372.2" r="10.55" fill="#000000"/>
<circle cx="1594.7" cy="396.0" r="10.55" fill="#000000"/>
<circle cx="1615.7" cy="434.8" r="10.55" fill="#000000"/>
<circle cx="1636.7" cy="441.6" r="10.55" fill="#000000"/>
<circle cx="1657.7" cy="450.5" r="10.55" fill="#000000"/>
<circle cx="1678.7" cy="468.1" r="10.55" fill="#000000"/>
<circle cx="1699.7" cy="482.0" r="10.55" fill="#000000"/>
<circle cx="1720.7" cy="495.9" r="10.55" fill="#000000"/>
<circle cx="1741.6" cy="508.9" r="10.55" fill="#000000"/>
<circle cx="1762.6" cy="523.9" r="10.55" fill="#000000"/>
<circle cx="1783.6" cy="531.4" r="10.55" fill="#000000"/>
<circle cx="1804.6" cy="546.1" r="10.55" fill="#000000"/>
<circle cx="1825.6" cy="563.7" r="10.55" fill="#000000"/>
<circle cx="1846.6" cy="583.7" r="10.55" fill="#000000"/>
<circle cx="1867.5" cy="590.9" r="10.55" fill="#000000"/>
<circle cx="1888.5" cy="587.8" r="10.55" fill="#000000"/>
<circle cx="1909.5" cy="591.8" r="10.55" fill="#000000"/>
<circle cx="1930.5" cy="601.7" r="10.55" fill="#000000"/>
<circle cx="1951.5" cy="620.0" r="10.55" fill="#000000"/>
<circle cx="1972.5" cy="621.0" r="10.55" fill="#000000"/>
<circle cx="1993.5" cy="627.6" r="10.55" fill="#000000"/>
<circle cx="2014.4" cy="627.6" r="10.55" fill="#000000"/>
<circle cx="2035.4" cy="638.6" r="10.55" fill="#000000"/>
<circle cx="2056.4" cy="650.3" r="10.55" fill="#000000"/>
<circle cx="2077.4" cy="656.6" r="10.55" fill="#000000"/>
<path d="M1290.46,174.00v15M1290.46,758.50v-15M1342.92,174.00v15M1342.92,758.50v-15M1395.39,174.00v15M1395.39,758.50v-15M1447.85,174.00v23M1447.85,758.50v-23M1500.31,174.00v15M1500.31,758.50v-15M1552.78,174.00v15M1552.78,758.50v-15M1605.24,174.00v15M1605.24,758.50v-15M1657.70,174.00v23M1657.70,758.50v-23M1710.16,174.00v15M1710.16,758.50v-15M1762.62,174.00v15M1762.62,758.50v-15M1815.09,174.00v15M1815.09,758.50v-15M1867.55,174.00v23M1867.55,758.50v-23M1920.01,174.00v15M1920.01,758.50v-15M1972.47,174.00v15M1972.47,758.50v-15M2024.94,174.00v15M2024.94,758.50v-15M1238.00,709.79h15M2077.40,709.79h-15M1238.00,661.08h15M2077.40,661.08h-15M1238.00,612.38h15M2077.40,612.38h-15M1238.00,563.67h23M2077.40,563.67h-23M1238.00,514.96h15M2077.40,514.96h-15M1238.00,466.25h15M2077.40,466.25h-15M1238.00,417.54h15M2077.40,417.54h-15M1238.00,368.83h23M2077.40,368.83h-23M1238.00,320.12h15M2077.40,320.12h-15M1238.00,271.42h15M2077.40,271.42h-15M1238.00,222.71h15M2077.40,222.71h-15" stroke="#000" stroke-width="3.5" fill="none"/>
<path fill-rule="evenodd" fill="#000" d="M1236,172H2079V760H1236ZM1240,176H2076V757H1240Z"/></g>
<g><polyline fill="none" stroke="#ff0000" stroke-width="6.6" stroke-linejoin="round" points="273.0,1452.5 294.0,1452.5 315.0,1443.4 335.9,1389.9 356.9,1289.0 377.9,1182.9 398.9,1054.7 419.9,952.9 440.9,913.6 461.9,883.7 482.8,902.9 503.8,904.7 524.8,932.1 545.8,949.1 566.8,965.7 587.8,1013.0 608.7,1021.0 629.7,1047.7 650.7,1081.5 671.7,1091.8 692.7,1124.9 713.7,1146.9 734.7,1171.6 755.6,1190.4 776.6,1199.4 797.6,1215.8 818.6,1231.5 839.6,1242.6 860.6,1250.6 881.5,1262.0 902.5,1279.3 923.5,1293.2 944.5,1296.7 965.5,1303.5 986.5,1306.4 1007.5,1311.5 1028.4,1321.6 1049.4,1326.6 1070.4,1335.5 1091.4,1340.5"/>
<rect x="263.2" y="1442.8" width="19.5" height="19.5" fill="#ff0000"/>
<rect x="284.2" y="1442.8" width="19.5" height="19.5" fill="#ff0000"/>
<rect x="305.2" y="1433.7" width="19.5" height="19.5" fill="#ff0000"/>
<rect x="326.2" y="1380.2" width="19.5" height="19.5" fill="#ff0000"/>
<rect x="347.2" y="1279.2" width="19.5" height="19.5" fill="#ff0000"/>
<rect x="368.2" y="1173.2" width="19.5" height="19.5" fill="#ff0000"/>
<rect x="389.1" y="1045.0" width="19.5" height="19.5" fill="#ff0000"/>
<rect x="410.1" y="943.1" width="19.5" height="19.5" fill="#ff0000"/>
<rect x="431.1" y="903.9" width="19.5" height="19.5" fill="#ff0000"/>
<rect x="452.1" y="874.0" width="19.5" height="19.5" fill="#ff0000"/>
<rect x="473.1" y="893.1" width="19.5" height="19.5" fill="#ff0000"/>
<rect x="494.1" y="895.0" width="19.5" height="19.5" fill="#ff0000"/>
<rect x="515.1" y="922.4" width="19.5" height="19.5" fill="#ff0000"/>
<rect x="536.0" y="939.4" width="19.5" height="19.5" fill="#ff0000"/>
<rect x="557.0" y="956.0" width="19.5" height="19.5" fill="#ff0000"/>
<rect x="578.0" y="1003.2" width="19.5" height="19.5" fill="#ff0000"/>
<rect x="599.0" y="1011.2" width="19.5" height="19.5" fill="#ff0000"/>
<rect x="620.0" y="1038.0" width="19.5" height="19.5" fill="#ff0000"/>
<rect x="641.0" y="1071.8" width="19.5" height="19.5" fill="#ff0000"/>
<rect x="662.0" y="1082.0" width="19.5" height="19.5" fill="#ff0000"/>
<rect x="682.9" y="1115.2" width="19.5" height="19.5" fill="#ff0000"/>
<rect x="703.9" y="1137.2" width="19.5" height="19.5" fill="#ff0000"/>
<rect x="724.9" y="1161.8" width="19.5" height="19.5" fill="#ff0000"/>
<rect x="745.9" y="1180.7" width="19.5" height="19.5" fill="#ff0000"/>
<rect x="766.9" y="1189.7" width="19.5" height="19.5" fill="#ff0000"/>
<rect x="787.9" y="1206.0" width="19.5" height="19.5" fill="#ff0000"/>
<rect x="808.8" y="1221.8" width="19.5" height="19.5" fill="#ff0000"/>
<rect x="829.8" y="1232.8" width="19.5" height="19.5" fill="#ff0000"/>
<rect x="850.8" y="1240.8" width="19.5" height="19.5" fill="#ff0000"/>
<rect x="871.8" y="1252.2" width="19.5" height="19.5" fill="#ff0000"/>
<rect x="892.8" y="1269.5" width="19.5" height="19.5" fill="#ff0000"/>
<rect x="913.8" y="1283.5" width="19.5" height="19.5" fill="#ff0000"/>
<rect x="934.8" y="1287.0" width="19.5" height="19.5" fill="#ff0000"/>
<rect x="955.7" y="1293.8" width="19.5" height="19.5" fill="#ff0000"/>
<rect x="976.7" y="1296.7" width="19.5" height="19.5" fill="#ff0000"/>
<rect x="997.7" y="1301.8" width="19.5" height="19.5" fill="#ff0000"/>
<rect x="1018.7" y="1311.8" width="19.5" height="19.5" fill="#ff0000"/>
<rect x="1039.7" y="1316.8" width="19.5" height="19.5" fill="#ff0000"/>
<rect x="1060.7" y="1325.8" width="19.5" height="19.5" fill="#ff0000"/>
<rect x="1081.7" y="1330.8" width="19.5" height="19.5" fill="#ff0000"/>
<polyline fill="none" stroke="#0000ff" stroke-width="6.6" stroke-linejoin="round" points="273.0,1452.5 294.0,1452.5 315.0,1452.5 335.9,1431.0 356.9,1373.2 377.9,1286.0 398.9,1190.1 419.9,1097.2 440.9,1046.0 461.9,989.4 482.8,970.4 503.8,977.8 524.8,965.6 545.8,987.6 566.8,1011.6 587.8,1032.6 608.7,1060.5 629.7,1080.0 650.7,1105.0 671.7,1128.6 692.7,1143.9 713.7,1155.9 734.7,1172.6 755.6,1190.0 776.6,1210.0 797.6,1224.0 818.6,1240.0 839.6,1250.0 860.6,1262.0 881.5,1268.0 902.5,1283.0 923.5,1291.6 944.5,1299.6 965.5,1309.6 986.5,1313.5 1007.5,1319.4 1028.4,1323.5 1049.4,1330.8 1070.4,1338.4 1091.4,1344.7"/>
<polygon points="273.0,1438.2 260.6,1459.7 285.4,1459.7" fill="#0000ff"/>
<polygon points="294.0,1438.2 281.6,1459.7 306.4,1459.7" fill="#0000ff"/>
<polygon points="315.0,1438.2 302.6,1459.7 327.4,1459.7" fill="#0000ff"/>
<polygon points="335.9,1416.7 323.5,1438.2 348.3,1438.2" fill="#0000ff"/>
<polygon points="356.9,1358.9 344.5,1380.4 369.3,1380.4" fill="#0000ff"/>
<polygon points="377.9,1271.7 365.5,1293.2 390.3,1293.2" fill="#0000ff"/>
<polygon points="398.9,1175.8 386.5,1197.3 411.3,1197.3" fill="#0000ff"/>
<polygon points="419.9,1082.9 407.5,1104.4 432.3,1104.4" fill="#0000ff"/>
<polygon points="440.9,1031.7 428.5,1053.2 453.3,1053.2" fill="#0000ff"/>
<polygon points="461.9,975.1 449.5,996.6 474.2,996.6" fill="#0000ff"/>
<polygon points="482.8,956.1 470.4,977.6 495.2,977.6" fill="#0000ff"/>
<polygon points="503.8,963.5 491.4,985.0 516.2,985.0" fill="#0000ff"/>
<polygon points="524.8,951.3 512.4,972.8 537.2,972.8" fill="#0000ff"/>
<polygon points="545.8,973.3 533.4,994.8 558.2,994.8" fill="#0000ff"/>
<polygon points="566.8,997.3 554.4,1018.8 579.2,1018.8" fill="#0000ff"/>
<polygon points="587.8,1018.3 575.4,1039.8 600.2,1039.8" fill="#0000ff"/>
<polygon points="608.7,1046.2 596.3,1067.7 621.1,1067.7" fill="#0000ff"/>
<polygon points="629.7,1065.7 617.3,1087.2 642.1,1087.2" fill="#0000ff"/>
<polygon points="650.7,1090.7 638.3,1112.2 663.1,1112.2" fill="#0000ff"/>
<polygon points="671.7,1114.3 659.3,1135.8 684.1,1135.8" fill="#0000ff"/>
<polygon points="692.7,1129.6 680.3,1151.1 705.1,1151.1" fill="#0000ff"/>
<polygon points="713.7,1141.6 701.3,1163.1 726.1,1163.1" fill="#0000ff"/>
<polygon points="734.7,1158.3 722.3,1179.8 747.1,1179.8" fill="#0000ff"/>
<polygon points="755.6,1175.7 743.2,1197.2 768.0,1197.2" fill="#0000ff"/>
<polygon points="776.6,1195.7 764.2,1217.2 789.0,1217.2" fill="#0000ff"/>
<polygon points="797.6,1209.7 785.2,1231.2 810.0,1231.2" fill="#0000ff"/>
<polygon points="818.6,1225.7 806.2,1247.2 831.0,1247.2" fill="#0000ff"/>
<polygon points="839.6,1235.7 827.2,1257.2 852.0,1257.2" fill="#0000ff"/>
<polygon points="860.6,1247.7 848.2,1269.2 873.0,1269.2" fill="#0000ff"/>
<polygon points="881.5,1253.7 869.1,1275.2 893.9,1275.2" fill="#0000ff"/>
<polygon points="902.5,1268.7 890.1,1290.2 914.9,1290.2" fill="#0000ff"/>
<polygon points="923.5,1277.3 911.1,1298.8 935.9,1298.8" fill="#0000ff"/>
<polygon points="944.5,1285.3 932.1,1306.8 956.9,1306.8" fill="#0000ff"/>
<polygon points="965.5,1295.3 953.1,1316.8 977.9,1316.8" fill="#0000ff"/>
<polygon points="986.5,1299.2 974.1,1320.7 998.9,1320.7" fill="#0000ff"/>
<polygon points="1007.5,1305.1 995.1,1326.6 1019.9,1326.6" fill="#0000ff"/>
<polygon points="1028.4,1309.2 1016.0,1330.7 1040.8,1330.7" fill="#0000ff"/>
<polygon points="1049.4,1316.5 1037.0,1338.0 1061.8,1338.0" fill="#0000ff"/>
<polygon points="1070.4,1324.1 1058.0,1345.6 1082.8,1345.6" fill="#0000ff"/>
<polygon points="1091.4,1330.4 1079.0,1351.9 1103.8,1351.9" fill="#0000ff"/>
<polyline fill="none" stroke="#008b00" stroke-width="6.6" stroke-linejoin="round" points="273.0,1452.5 294.0,1452.5 315.0,1450.4 335.9,1433.4 356.9,1373.5 377.9,1288.3 398.9,1190.5 419.9,1098.4 440.9,1051.2 461.9,1015.2 482.8,994.3 503.8,971.5 524.8,988.3 545.8,993.5 566.8,1025.7 587.8,1048.2 608.7,1051.5 629.7,1072.8 650.7,1105.0 671.7,1139.7 692.7,1157.7 713.7,1170.6 734.7,1179.0 755.6,1189.5 776.6,1205.5 797.6,1222.4 818.6,1235.4 839.6,1246.7 860.6,1260.4 881.5,1261.4 902.5,1277.4 923.5,1283.3 944.5,1293.4 965.5,1306.7 986.5,1310.0 1007.5,1319.3 1028.4,1324.5 1049.4,1330.0 1070.4,1337.9 1091.4,1346.5"/>
<polygon points="273.0,1439.0 259.5,1452.5 273.0,1466.0 286.5,1452.5" fill="#008b00"/>
<polygon points="294.0,1439.0 280.5,1452.5 294.0,1466.0 307.5,1452.5" fill="#008b00"/>
<polygon points="315.0,1436.9 301.5,1450.4 315.0,1463.9 328.5,1450.4" fill="#008b00"/>
<polygon points="335.9,1419.9 322.4,1433.4 335.9,1446.9 349.4,1433.4" fill="#008b00"/>
<polygon points="356.9,1360.0 343.4,1373.5 356.9,1387.0 370.4,1373.5" fill="#008b00"/>
<polygon points="377.9,1274.8 364.4,1288.3 377.9,1301.8 391.4,1288.3" fill="#008b00"/>
<polygon points="398.9,1177.0 385.4,1190.5 398.9,1204.0 412.4,1190.5" fill="#008b00"/>
<polygon points="419.9,1084.9 406.4,1098.4 419.9,1111.9 433.4,1098.4" fill="#008b00"/>
<polygon points="440.9,1037.7 427.4,1051.2 440.9,1064.7 454.4,1051.2" fill="#008b00"/>
<polygon points="461.9,1001.7 448.4,1015.2 461.9,1028.7 475.4,1015.2" fill="#008b00"/>
<polygon points="482.8,980.8 469.3,994.3 482.8,1007.8 496.3,994.3" fill="#008b00"/>
<polygon points="503.8,958.0 490.3,971.5 503.8,985.0 517.3,971.5" fill="#008b00"/>
<polygon points="524.8,974.8 511.3,988.3 524.8,1001.8 538.3,988.3" fill="#008b00"/>
<polygon points="545.8,980.0 532.3,993.5 545.8,1007.0 559.3,993.5" fill="#008b00"/>
<polygon points="566.8,1012.2 553.3,1025.7 566.8,1039.2 580.3,1025.7" fill="#008b00"/>
<polygon points="587.8,1034.7 574.3,1048.2 587.8,1061.7 601.3,1048.2" fill="#008b00"/>
<polygon points="608.7,1038.0 595.2,1051.5 608.7,1065.0 622.2,1051.5" fill="#008b00"/>
<polygon points="629.7,1059.3 616.2,1072.8 629.7,1086.3 643.2,1072.8" fill="#008b00"/>
<polygon points="650.7,1091.5 637.2,1105.0 650.7,1118.5 664.2,1105.0" fill="#008b00"/>
<polygon points="671.7,1126.2 658.2,1139.7 671.7,1153.2 685.2,1139.7" fill="#008b00"/>
<polygon points="692.7,1144.2 679.2,1157.7 692.7,1171.2 706.2,1157.7" fill="#008b00"/>
<polygon points="713.7,1157.1 700.2,1170.6 713.7,1184.1 727.2,1170.6" fill="#008b00"/>
<polygon points="734.7,1165.5 721.2,1179.0 734.7,1192.5 748.2,1179.0" fill="#008b00"/>
<polygon points="755.6,1176.0 742.1,1189.5 755.6,1203.0 769.1,1189.5" fill="#008b00"/>
<polygon points="776.6,1192.0 763.1,1205.5 776.6,1219.0 790.1,1205.5" fill="#008b00"/>
<polygon points="797.6,1208.9 784.1,1222.4 797.6,1235.9 811.1,1222.4" fill="#008b00"/>
<polygon points="818.6,1221.9 805.1,1235.4 818.6,1248.9 832.1,1235.4" fill="#008b00"/>
<polygon points="839.6,1233.2 826.1,1246.7 839.6,1260.2 853.1,1246.7" fill="#008b00"/>
<polygon points="860.6,1246.9 847.1,1260.4 860.6,1273.9 874.1,1260.4" fill="#008b00"/>
<polygon points="881.5,1247.9 868.0,1261.4 881.5,1274.9 895.0,1261.4" fill="#008b00"/>
<polygon points="902.5,1263.9 889.0,1277.4 902.5,1290.9 916.0,1277.4" fill="#008b00"/>
<polygon points="923.5,1269.8 910.0,1283.3 923.5,1296.8 937.0,1283.3" fill="#008b00"/>
<polygon points="944.5,1279.9 931.0,1293.4 944.5,1306.9 958.0,1293.4" fill="#008b00"/>
<polygon points="965.5,1293.2 952.0,1306.7 965.5,1320.2 979.0,1306.7" fill="#008b00"/>
<polygon points="986.5,1296.5 973.0,1310.0 986.5,1323.5 1000.0,1310.0" fill="#008b00"/>
<polygon points="1007.5,1305.8 994.0,1319.3 1007.5,1332.8 1021.0,1319.3" fill="#008b00"/>
<polygon points="1028.4,1311.0 1014.9,1324.5 1028.4,1338.0 1041.9,1324.5" fill="#008b00"/>
<polygon points="1049.4,1316.5 1035.9,1330.0 1049.4,1343.5 1062.9,1330.0" fill="#008b00"/>
<polygon points="1070.4,1324.4 1056.9,1337.9 1070.4,1351.4 1083.9,1337.9" fill="#008b00"/>
<polygon points="1091.4,1333.0 1077.9,1346.5 1091.4,1360.0 1104.9,1346.5" fill="#008b00"/>
<polyline fill="none" stroke="#ff00ff" stroke-width="6.6" stroke-linejoin="round" points="273.0,1452.5 294.0,1452.5 315.0,1450.5 335.9,1434.4 356.9,1381.6 377.9,1297.7 398.9,1215.2 419.9,1124.3 440.9,1063.6 461.9,1017.2 482.8,1013.0 503.8,993.7 524.8,1007.5 545.8,1006.4 566.8,1011.5 587.8,1048.3 608.7,1067.1 629.7,1099.4 650.7,1108.8 671.7,1124.8 692.7,1156.2 713.7,1170.2 734.7,1188.6 755.6,1205.5 776.6,1212.7 797.6,1225.9 818.6,1245.0 839.6,1253.0 860.6,1263.7 881.5,1271.3 902.5,1281.4 923.5,1289.6 944.5,1299.7 965.5,1308.6 986.5,1315.5 1007.5,1320.6 1028.4,1327.5 1049.4,1334.5 1070.4,1337.0 1091.4,1343.9"/>
<polygon points="273.0,1466.8 260.6,1445.3 285.4,1445.3" fill="#ff00ff"/>
<polygon points="294.0,1466.8 281.6,1445.3 306.4,1445.3" fill="#ff00ff"/>
<polygon points="315.0,1464.8 302.6,1443.3 327.4,1443.3" fill="#ff00ff"/>
<polygon points="335.9,1448.7 323.5,1427.2 348.3,1427.2" fill="#ff00ff"/>
<polygon points="356.9,1395.9 344.5,1374.4 369.3,1374.4" fill="#ff00ff"/>
<polygon points="377.9,1312.0 365.5,1290.5 390.3,1290.5" fill="#ff00ff"/>
<polygon points="398.9,1229.5 386.5,1208.0 411.3,1208.0" fill="#ff00ff"/>
<polygon points="419.9,1138.6 407.5,1117.1 432.3,1117.1" fill="#ff00ff"/>
<polygon points="440.9,1077.9 428.5,1056.4 453.3,1056.4" fill="#ff00ff"/>
<polygon points="461.9,1031.5 449.5,1010.0 474.2,1010.0" fill="#ff00ff"/>
<polygon points="482.8,1027.3 470.4,1005.8 495.2,1005.8" fill="#ff00ff"/>
<polygon points="503.8,1008.0 491.4,986.5 516.2,986.5" fill="#ff00ff"/>
<polygon points="524.8,1021.8 512.4,1000.3 537.2,1000.3" fill="#ff00ff"/>
<polygon points="545.8,1020.7 533.4,999.2 558.2,999.2" fill="#ff00ff"/>
<polygon points="566.8,1025.8 554.4,1004.3 579.2,1004.3" fill="#ff00ff"/>
<polygon points="587.8,1062.6 575.4,1041.1 600.2,1041.1" fill="#ff00ff"/>
<polygon points="608.7,1081.4 596.3,1059.9 621.1,1059.9" fill="#ff00ff"/>
<polygon points="629.7,1113.7 617.3,1092.2 642.1,1092.2" fill="#ff00ff"/>
<polygon points="650.7,1123.1 638.3,1101.6 663.1,1101.6" fill="#ff00ff"/>
<polygon points="671.7,1139.1 659.3,1117.6 684.1,1117.6" fill="#ff00ff"/>
<polygon points="692.7,1170.5 680.3,1149.0 705.1,1149.0" fill="#ff00ff"/>
<polygon points="713.7,1184.5 701.3,1163.0 726.1,1163.0" fill="#ff00ff"/>
<polygon points="734.7,1202.9 722.3,1181.4 747.1,1181.4" fill="#ff00ff"/>
<polygon points="755.6,1219.8 743.2,1198.3 768.0,1198.3" fill="#ff00ff"/>
<polygon points="776.6,1227.0 764.2,1205.5 789.0,1205.5" fill="#ff00ff"/>
<polygon points="797.6,1240.2 785.2,1218.7 810.0,1218.7" fill="#ff00ff"/>
<polygon points="818.6,1259.3 806.2,1237.8 831.0,1237.8" fill="#ff00ff"/>
<polygon points="839.6,1267.3 827.2,1245.8 852.0,1245.8" fill="#ff00ff"/>
<polygon points="860.6,1278.0 848.2,1256.5 873.0,1256.5" fill="#ff00ff"/>
<polygon points="881.5,1285.6 869.1,1264.1 893.9,1264.1" fill="#ff00ff"/>
<polygon points="902.5,1295.7 890.1,1274.2 914.9,1274.2" fill="#ff00ff"/>
<polygon points="923.5,1303.9 911.1,1282.4 935.9,1282.4" fill="#ff00ff"/>
<polygon points="944.5,1314.0 932.1,1292.5 956.9,1292.5" fill="#ff00ff"/>
<polygon points="965.5,1322.9 953.1,1301.4 977.9,1301.4" fill="#ff00ff"/>
<polygon points="986.5,1329.8 974.1,1308.3 998.9,1308.3" fill="#ff00ff"/>
<polygon points="1007.5,1334.9 995.1,1313.4 1019.9,1313.4" fill="#ff00ff"/>
<polygon points="1028.4,1341.8 1016.0,1320.3 1040.8,1320.3" fill="#ff00ff"/>
<polygon points="1049.4,1348.8 1037.0,1327.3 1061.8,1327.3" fill="#ff00ff"/>
<polygon points="1070.4,1351.3 1058.0,1329.8 1082.8,1329.8" fill="#ff00ff"/>
<polygon points="1091.4,1358.2 1079.0,1336.7 1103.8,1336.7" fill="#ff00ff"/>
<polyline fill="none" stroke="#000000" stroke-width="6.6" stroke-linejoin="round" points="273.0,1452.5 294.0,1452.5 315.0,1452.5 335.9,1440.7 356.9,1408.7 377.9,1344.6 398.9,1261.4 419.9,1185.3 440.9,1126.1 461.9,1080.8 482.8,1075.1 503.8,1039.2 524.8,1038.0 545.8,1068.0 566.8,1057.9 587.8,1072.9 608.7,1093.5 629.7,1134.1 650.7,1153.5 671.7,1157.3 692.7,1165.5 713.7,1172.2 734.7,1190.7 755.6,1192.5 776.6,1220.2 797.6,1238.4 818.6,1262.6 839.6,1267.9 860.6,1272.9 881.5,1285.8 902.5,1288.1 923.5,1285.6 944.5,1296.3 965.5,1307.0 986.5,1308.3 1007.5,1323.7 1028.4,1320.9 1049.4,1324.7 1070.4,1340.5 1091.4,1348.7"/>
<circle cx="273.0" cy="1452.5" r="10.55" fill="#000000"/>
<circle cx="294.0" cy="1452.5" r="10.55" fill="#000000"/>
<circle cx="315.0" cy="1452.5" r="10.55" fill="#000000"/>
<circle cx="335.9" cy="1440.7" r="10.55" fill="#000000"/>
<circle cx="356.9" cy="1408.7" r="10.55" fill="#000000"/>
<circle cx="377.9" cy="1344.6" r="10.55" fill="#000000"/>
<circle cx="398.9" cy="1261.4" r="10.55" fill="#000000"/>
<circle cx="419.9" cy="1185.3" r="10.55" fill="#000000"/>
<circle cx="440.9" cy="1126.1" r="10.55" fill="#000000"/>
<circle cx="461.9" cy="1080.8" r="10.55" fill="#000000"/>
<circle cx="482.8" cy="1075.1" r="10.55" fill="#000000"/>
<circle cx="503.8" cy="1039.2" r="10.55" fill="#000000"/>
<circle cx="524.8" cy="1038.0" r="10.55" fill="#000000"/>
<circle cx="545.8" cy="1068.0" r="10.55" fill="#000000"/>
<circle cx="566.8" cy="1057.9" r="10.55" fill="#000000"/>
<circle cx="587.8" cy="1072.9" r="10.55" fill="#000000"/>
<circle cx="608.7" cy="1093.5" r="10.55" fill="#000000"/>
<circle cx="629.7" cy="1134.1" r="10.55" fill="#000000"/>
<circle cx="650.7" cy="1153.5" r="10.55" fill="#000000"/>
<circle cx="671.7" cy="1157.3" r="10.55" fill="#000000"/>
<circle cx="692.7" cy="1165.5" r="10.55" fill="#000000"/>
<circle cx="713.7" cy="1172.2" r="10.55" fill="#000000"/>
<circle cx="734.7" cy="1190.7" r="10.55" fill="#000000"/>
<circle cx="755.6" cy="1192.5" r="10.55" fill="#000000"/>
<circle cx="776.6" cy="1220.2" r="10.55" fill="#000000"/>
<circle cx="797.6" cy="1238.4" r="10.55" fill="#000000"/>
<circle cx="818.6" cy="1262.6" r="10.55" fill="#000000"/>
<circle cx="839.6" cy="1267.9" r="10.55" fill="#000000"/>
<circle cx="860.6" cy="1272.9" r="10.55" fill="#000000"/>
<circle cx="881.5" cy="1285.8" r="10.55" fill="#000000"/>
<circle cx="902.5" cy="1288.1" r="10.55" fill="#000000"/>
<circle cx="923.5" cy="1285.6" r="10.55" fill="#000000"/>
<circle cx="944.5" cy="1296.3" r="10.55" fill="#000000"/>
<circle cx="965.5" cy="1307.0" r="10.55" fill="#000000"/>
<circle cx="986.5" cy="1308.3" r="10.55" fill="#000000"/>
<circle cx="1007.5" cy="1323.7" r="10.55" fill="#000000"/>
<circle cx="1028.4" cy="1320.9" r="10.55" fill="#000000"/>
<circle cx="1049.4" cy="1324.7" r="10.55" fill="#000000"/>
<circle cx="1070.4" cy="1340.5" r="10.55" fill="#000000"/>
<circle cx="1091.4" cy="1348.7" r="10.55" fill="#000000"/>
<path d="M304.46,868.00v15M304.46,1452.50v-15M356.93,868.00v15M356.93,1452.50v-15M409.39,868.00v15M409.39,1452.50v-15M461.85,868.00v23M461.85,1452.50v-23M514.31,868.00v15M514.31,1452.50v-15M566.77,868.00v15M566.77,1452.50v-15M619.24,868.00v15M619.24,1452.50v-15M671.70,868.00v23M671.70,1452.50v-23M724.16,868.00v15M724.16,1452.50v-15M776.62,868.00v15M776.62,1452.50v-15M829.09,868.00v15M829.09,1452.50v-15M881.55,868.00v23M881.55,1452.50v-23M934.01,868.00v15M934.01,1452.50v-15M986.48,868.00v15M986.48,1452.50v-15M1038.94,868.00v15M1038.94,1452.50v-15M252.00,1403.79h15M1091.40,1403.79h-15M252.00,1355.08h15M1091.40,1355.08h-15M252.00,1306.38h15M1091.40,1306.38h-15M252.00,1257.67h23M1091.40,1257.67h-23M252.00,1208.96h15M1091.40,1208.96h-15M252.00,1160.25h15M1091.40,1160.25h-15M252.00,1111.54h15M1091.40,1111.54h-15M252.00,1062.83h23M1091.40,1062.83h-23M252.00,1014.12h15M1091.40,1014.12h-15M252.00,965.42h15M1091.40,965.42h-15M252.00,916.71h15M1091.40,916.71h-15" stroke="#000" stroke-width="3.5" fill="none"/>
<path fill-rule="evenodd" fill="#000" d="M250,866H1093V1454H250ZM254,870H1090V1451H254Z"/></g>
<g><polyline fill="none" stroke="#ff0000" stroke-width="6.6" stroke-linejoin="round" points="1259.0,1452.5 1280.0,1452.5 1301.0,1443.7 1321.9,1391.0 1342.9,1294.0 1363.9,1178.9 1384.9,1056.5 1405.9,950.6 1426.9,956.6 1447.8,922.2 1468.8,908.7 1489.8,924.4 1510.8,921.4 1531.8,954.8 1552.8,978.3 1573.8,1012.5 1594.7,1031.8 1615.7,1025.5 1636.7,1065.6 1657.7,1092.6 1678.7,1118.9 1699.7,1154.5 1720.7,1187.0 1741.6,1194.5 1762.6,1197.8 1783.6,1213.7 1804.6,1225.8 1825.6,1241.5 1846.6,1256.5 1867.5,1267.7 1888.5,1277.4 1909.5,1287.5 1930.5,1304.3 1951.5,1305.5 1972.5,1311.5 1993.5,1322.5 2014.4,1325.4 2035.4,1328.5 2056.4,1333.6 2077.4,1337.7"/>
<rect x="1249.2" y="1442.8" width="19.5" height="19.5" fill="#ff0000"/>
<rect x="1270.2" y="1442.8" width="19.5" height="19.5" fill="#ff0000"/>
<rect x="1291.2" y="1434.0" width="19.5" height="19.5" fill="#ff0000"/>
<rect x="1312.2" y="1381.2" width="19.5" height="19.5" fill="#ff0000"/>
<rect x="1333.2" y="1284.2" width="19.5" height="19.5" fill="#ff0000"/>
<rect x="1354.2" y="1169.2" width="19.5" height="19.5" fill="#ff0000"/>
<rect x="1375.1" y="1046.8" width="19.5" height="19.5" fill="#ff0000"/>
<rect x="1396.1" y="940.9" width="19.5" height="19.5" fill="#ff0000"/>
<rect x="1417.1" y="946.9" width="19.5" height="19.5" fill="#ff0000"/>
<rect x="1438.1" y="912.5" width="19.5" height="19.5" fill="#ff0000"/>
<rect x="1459.1" y="899.0" width="19.5" height="19.5" fill="#ff0000"/>
<rect x="1480.1" y="914.6" width="19.5" height="19.5" fill="#ff0000"/>
<rect x="1501.1" y="911.6" width="19.5" height="19.5" fill="#ff0000"/>
<rect x="1522.0" y="945.0" width="19.5" height="19.5" fill="#ff0000"/>
<rect x="1543.0" y="968.5" width="19.5" height="19.5" fill="#ff0000"/>
<rect x="1564.0" y="1002.8" width="19.5" height="19.5" fill="#ff0000"/>
<rect x="1585.0" y="1022.0" width="19.5" height="19.5" fill="#ff0000"/>
<rect x="1606.0" y="1015.8" width="19.5" height="19.5" fill="#ff0000"/>
<rect x="1627.0" y="1055.8" width="19.5" height="19.5" fill="#ff0000"/>
<rect x="1648.0" y="1082.8" width="19.5" height="19.5" fill="#ff0000"/>
<rect x="1668.9" y="1109.2" width="19.5" height="19.5" fill="#ff0000"/>
<rect x="1689.9" y="1144.8" width="19.5" height="19.5" fill="#ff0000"/>
<rect x="1710.9" y="1177.2" width="19.5" height="19.5" fill="#ff0000"/>
<rect x="1731.9" y="1184.8" width="19.5" height="19.5" fill="#ff0000"/>
<rect x="1752.9" y="1188.0" width="19.5" height="19.5" fill="#ff0000"/>
<rect x="1773.9" y="1204.0" width="19.5" height="19.5" fill="#ff0000"/>
<rect x="1794.8" y="1216.0" width="19.5" height="19.5" fill="#ff0000"/>
<rect x="1815.8" y="1231.8" width="19.5" height="19.5" fill="#ff0000"/>
<rect x="1836.8" y="1246.8" width="19.5" height="19.5" fill="#ff0000"/>
<rect x="1857.8" y="1258.0" width="19.5" height="19.5" fill="#ff0000"/>
<rect x="1878.8" y="1267.7" width="19.5" height="19.5" fill="#ff0000"/>
<rect x="1899.8" y="1277.8" width="19.5" height="19.5" fill="#ff0000"/>
<rect x="1920.8" y="1294.5" width="19.5" height="19.5" fill="#ff0000"/>
<rect x="1941.7" y="1295.8" width="19.5" height="19.5" fill="#ff0000"/>
<rect x="1962.7" y="1301.8" width="19.5" height="19.5" fill="#ff0000"/>
<rect x="1983.7" y="1312.8" width="19.5" height="19.5" fill="#ff0000"/>
<rect x="2004.7" y="1315.7" width="19.5" height="19.5" fill="#ff0000"/>
<rect x="2025.7" y="1318.8" width="19.5" height="19.5" fill="#ff0000"/>
<rect x="2046.7" y="1323.8" width="19.5" height="19.5" fill="#ff0000"/>
<rect x="2067.7" y="1328.0" width="19.5" height="19.5" fill="#ff0000"/>
<polyline fill="none" stroke="#0000ff" stroke-width="6.6" stroke-linejoin="round" points="1259.0,1452.5 1280.0,1452.5 1301.0,1452.5 1321.9,1431.0 1342.9,1374.0 1363.9,1287.0 1384.9,1175.1 1405.9,1093.7 1426.9,1035.8 1447.8,1003.8 1468.8,973.4 1489.8,971.5 1510.8,969.2 1531.8,994.4 1552.8,1023.0 1573.8,1033.3 1594.7,1059.5 1615.7,1076.2 1636.7,1106.4 1657.7,1116.0 1678.7,1139.8 1699.7,1153.6 1720.7,1179.4 1741.6,1191.5 1762.6,1205.3 1783.6,1220.6 1804.6,1234.9 1825.6,1254.5 1846.6,1260.0 1867.5,1269.5 1888.5,1280.0 1909.5,1289.4 1930.5,1298.6 1951.5,1311.6 1972.5,1316.6 1993.5,1322.6 2014.4,1325.1 2035.4,1330.0 2056.4,1334.3 2077.4,1345.0"/>
<polygon points="1259.0,1438.2 1246.6,1459.7 1271.4,1459.7" fill="#0000ff"/>
<polygon points="1280.0,1438.2 1267.6,1459.7 1292.4,1459.7" fill="#0000ff"/>
<polygon points="1301.0,1438.2 1288.6,1459.7 1313.4,1459.7" fill="#0000ff"/>
<polygon points="1321.9,1416.7 1309.5,1438.2 1334.3,1438.2" fill="#0000ff"/>
<polygon points="1342.9,1359.7 1330.5,1381.2 1355.3,1381.2" fill="#0000ff"/>
<polygon points="1363.9,1272.7 1351.5,1294.2 1376.3,1294.2" fill="#0000ff"/>
<polygon points="1384.9,1160.8 1372.5,1182.3 1397.3,1182.3" fill="#0000ff"/>
<polygon points="1405.9,1079.4 1393.5,1100.9 1418.3,1100.9" fill="#0000ff"/>
<polygon points="1426.9,1021.5 1414.5,1043.0 1439.3,1043.0" fill="#0000ff"/>
<polygon points="1447.8,989.5 1435.4,1011.0 1460.2,1011.0" fill="#0000ff"/>
<polygon points="1468.8,959.1 1456.4,980.6 1481.2,980.6" fill="#0000ff"/>
<polygon points="1489.8,957.2 1477.4,978.7 1502.2,978.7" fill="#0000ff"/>
<polygon points="1510.8,954.9 1498.4,976.4 1523.2,976.4" fill="#0000ff"/>
<polygon points="1531.8,980.1 1519.4,1001.6 1544.2,1001.6" fill="#0000ff"/>
<polygon points="1552.8,1008.7 1540.4,1030.2 1565.2,1030.2" fill="#0000ff"/>
<polygon points="1573.8,1019.0 1561.4,1040.5 1586.2,1040.5" fill="#0000ff"/>
<polygon points="1594.7,1045.2 1582.3,1066.7 1607.1,1066.7" fill="#0000ff"/>
<polygon points="1615.7,1061.9 1603.3,1083.4 1628.1,1083.4" fill="#0000ff"/>
<polygon points="1636.7,1092.1 1624.3,1113.6 1649.1,1113.6" fill="#0000ff"/>
<polygon points="1657.7,1101.7 1645.3,1123.2 1670.1,1123.2" fill="#0000ff"/>
<polygon points="1678.7,1125.5 1666.3,1147.0 1691.1,1147.0" fill="#0000ff"/>
<polygon points="1699.7,1139.3 1687.3,1160.8 1712.1,1160.8" fill="#0000ff"/>
<polygon points="1720.7,1165.1 1708.3,1186.6 1733.1,1186.6" fill="#0000ff"/>
<polygon points="1741.6,1177.2 1729.2,1198.7 1754.0,1198.7" fill="#0000ff"/>
<polygon points="1762.6,1191.0 1750.2,1212.5 1775.0,1212.5" fill="#0000ff"/>
<polygon points="1783.6,1206.3 1771.2,1227.8 1796.0,1227.8" fill="#0000ff"/>
<polygon points="1804.6,1220.6 1792.2,1242.1 1817.0,1242.1" fill="#0000ff"/>
<polygon points="1825.6,1240.2 1813.2,1261.7 1838.0,1261.7" fill="#0000ff"/>
<polygon points="1846.6,1245.7 1834.2,1267.2 1859.0,1267.2" fill="#0000ff"/>
<polygon points="1867.5,1255.2 1855.1,1276.7 1880.0,1276.7" fill="#0000ff"/>
<polygon points="1888.5,1265.7 1876.1,1287.2 1900.9,1287.2" fill="#0000ff"/>
<polygon points="1909.5,1275.1 1897.1,1296.6 1921.9,1296.6" fill="#0000ff"/>
<polygon points="1930.5,1284.3 1918.1,1305.8 1942.9,1305.8" fill="#0000ff"/>
<polygon points="1951.5,1297.3 1939.1,1318.8 1963.9,1318.8" fill="#0000ff"/>
<polygon points="1972.5,1302.3 1960.1,1323.8 1984.9,1323.8" fill="#0000ff"/>
<polygon points="1993.5,1308.3 1981.1,1329.8 2005.9,1329.8" fill="#0000ff"/>
<polygon points="2014.4,1310.8 2002.0,1332.3 2026.8,1332.3" fill="#0000ff"/>
<polygon points="2035.4,1315.7 2023.0,1337.2 2047.8,1337.2" fill="#0000ff"/>
<polygon points="2056.4,1320.0 2044.0,1341.5 2068.8,1341.5" fill="#0000ff"/>
<polygon points="2077.4,1330.7 2065.0,1352.2 2089.8,1352.2" fill="#0000ff"/>
<polyline fill="none" stroke="#008b00" stroke-width="6.6" stroke-linejoin="round" points="1259.0,1452.5 1280.0,1452.5 1301.0,1450.4 1321.9,1433.4 1342.9,1375.0 1363.9,1288.0 1384.9,1198.0 1405.9,1105.0 1426.9,1036.2 1447.8,1005.5 1468.8,976.8 1489.8,984.5 1510.8,990.5 1531.8,1001.3 1552.8,1023.5 1573.8,1052.3 1594.7,1050.1 1615.7,1076.5 1636.7,1104.6 1657.7,1136.3 1678.7,1151.3 1699.7,1172.2 1720.7,1185.0 1741.6,1193.2 1762.6,1203.7 1783.6,1220.9 1804.6,1237.4 1825.6,1247.4 1846.6,1260.8 1867.5,1265.3 1888.5,1269.5 1909.5,1283.3 1930.5,1297.4 1951.5,1303.5 1972.5,1313.4 1993.5,1321.6 2014.4,1327.4 2035.4,1337.1 2056.4,1341.5 2077.4,1345.6"/>
<polygon points="1259.0,1439.0 1245.5,1452.5 1259.0,1466.0 1272.5,1452.5" fill="#008b00"/>
<polygon points="1280.0,1439.0 1266.5,1452.5 1280.0,1466.0 1293.5,1452.5" fill="#008b00"/>
<polygon points="1301.0,1436.9 1287.5,1450.4 1301.0,1463.9 1314.5,1450.4" fill="#008b00"/>
<polygon points="1321.9,1419.9 1308.4,1433.4 1321.9,1446.9 1335.4,1433.4" fill="#008b00"/>
<polygon points="1342.9,1361.5 1329.4,1375.0 1342.9,1388.5 1356.4,1375.0" fill="#008b00"/>
<polygon points="1363.9,1274.5 1350.4,1288.0 1363.9,1301.5 1377.4,1288.0" fill="#008b00"/>
<polygon points="1384.9,1184.5 1371.4,1198.0 1384.9,1211.5 1398.4,1198.0" fill="#008b00"/>
<polygon points="1405.9,1091.5 1392.4,1105.0 1405.9,1118.5 1419.4,1105.0" fill="#008b00"/>
<polygon points="1426.9,1022.7 1413.4,1036.2 1426.9,1049.7 1440.4,1036.2" fill="#008b00"/>
<polygon points="1447.8,992.0 1434.3,1005.5 1447.8,1019.0 1461.3,1005.5" fill="#008b00"/>
<polygon points="1468.8,963.3 1455.3,976.8 1468.8,990.3 1482.3,976.8" fill="#008b00"/>
<polygon points="1489.8,971.0 1476.3,984.5 1489.8,998.0 1503.3,984.5" fill="#008b00"/>
<polygon points="1510.8,977.0 1497.3,990.5 1510.8,1004.0 1524.3,990.5" fill="#008b00"/>
<polygon points="1531.8,987.8 1518.3,1001.3 1531.8,1014.8 1545.3,1001.3" fill="#008b00"/>
<polygon points="1552.8,1010.0 1539.3,1023.5 1552.8,1037.0 1566.3,1023.5" fill="#008b00"/>
<polygon points="1573.8,1038.8 1560.3,1052.3 1573.8,1065.8 1587.3,1052.3" fill="#008b00"/>
<polygon points="1594.7,1036.6 1581.2,1050.1 1594.7,1063.6 1608.2,1050.1" fill="#008b00"/>
<polygon points="1615.7,1063.0 1602.2,1076.5 1615.7,1090.0 1629.2,1076.5" fill="#008b00"/>
<polygon points="1636.7,1091.1 1623.2,1104.6 1636.7,1118.1 1650.2,1104.6" fill="#008b00"/>
<polygon points="1657.7,1122.8 1644.2,1136.3 1657.7,1149.8 1671.2,1136.3" fill="#008b00"/>
<polygon points="1678.7,1137.8 1665.2,1151.3 1678.7,1164.8 1692.2,1151.3" fill="#008b00"/>
<polygon points="1699.7,1158.7 1686.2,1172.2 1699.7,1185.7 1713.2,1172.2" fill="#008b00"/>
<polygon points="1720.7,1171.5 1707.2,1185.0 1720.7,1198.5 1734.2,1185.0" fill="#008b00"/>
<polygon points="1741.6,1179.7 1728.1,1193.2 1741.6,1206.7 1755.1,1193.2" fill="#008b00"/>
<polygon points="1762.6,1190.2 1749.1,1203.7 1762.6,1217.2 1776.1,1203.7" fill="#008b00"/>
<polygon points="1783.6,1207.4 1770.1,1220.9 1783.6,1234.4 1797.1,1220.9" fill="#008b00"/>
<polygon points="1804.6,1223.9 1791.1,1237.4 1804.6,1250.9 1818.1,1237.4" fill="#008b00"/>
<polygon points="1825.6,1233.9 1812.1,1247.4 1825.6,1260.9 1839.1,1247.4" fill="#008b00"/>
<polygon points="1846.6,1247.3 1833.1,1260.8 1846.6,1274.3 1860.1,1260.8" fill="#008b00"/>
<polygon points="1867.5,1251.8 1854.0,1265.3 1867.5,1278.8 1881.0,1265.3" fill="#008b00"/>
<polygon points="1888.5,1256.0 1875.0,1269.5 1888.5,1283.0 1902.0,1269.5" fill="#008b00"/>
<polygon points="1909.5,1269.8 1896.0,1283.3 1909.5,1296.8 1923.0,1283.3" fill="#008b00"/>
<polygon points="1930.5,1283.9 1917.0,1297.4 1930.5,1310.9 1944.0,1297.4" fill="#008b00"/>
<polygon points="1951.5,1290.0 1938.0,1303.5 1951.5,1317.0 1965.0,1303.5" fill="#008b00"/>
<polygon points="1972.5,1299.9 1959.0,1313.4 1972.5,1326.9 1986.0,1313.4" fill="#008b00"/>
<polygon points="1993.5,1308.1 1980.0,1321.6 1993.5,1335.1 2007.0,1321.6" fill="#008b00"/>
<polygon points="2014.4,1313.9 2000.9,1327.4 2014.4,1340.9 2027.9,1327.4" fill="#008b00"/>
<polygon points="2035.4,1323.6 2021.9,1337.1 2035.4,1350.6 2048.9,1337.1" fill="#008b00"/>
<polygon points="2056.4,1328.0 2042.9,1341.5 2056.4,1355.0 2069.9,1341.5" fill="#008b00"/>
<polygon points="2077.4,1332.1 2063.9,1345.6 2077.4,1359.1 2090.9,1345.6" fill="#008b00"/>
<polyline fill="none" stroke="#ff00ff" stroke-width="6.6" stroke-linejoin="round" points="1259.0,1452.5 1280.0,1452.5 1301.0,1450.5 1321.9,1433.8 1342.9,1385.0 1363.9,1298.5 1384.9,1211.2 1405.9,1126.6 1426.9,1063.6 1447.8,1034.7 1468.8,1002.7 1489.8,999.2 1510.8,999.2 1531.8,1016.1 1552.8,1029.9 1573.8,1047.1 1594.7,1054.9 1615.7,1103.8 1636.7,1106.5 1657.7,1113.2 1678.7,1148.0 1699.7,1167.6 1720.7,1192.3 1741.6,1206.2 1762.6,1217.5 1783.6,1230.5 1804.6,1239.6 1825.6,1247.3 1846.6,1261.3 1867.5,1271.3 1888.5,1285.6 1909.5,1292.5 1930.5,1300.4 1951.5,1306.4 1972.5,1311.3 1993.5,1319.3 2014.4,1326.2 2035.4,1332.6 2056.4,1336.4 2077.4,1345.2"/>
<polygon points="1259.0,1466.8 1246.6,1445.3 1271.4,1445.3" fill="#ff00ff"/>
<polygon points="1280.0,1466.8 1267.6,1445.3 1292.4,1445.3" fill="#ff00ff"/>
<polygon points="1301.0,1464.8 1288.6,1443.3 1313.4,1443.3" fill="#ff00ff"/>
<polygon points="1321.9,1448.1 1309.5,1426.6 1334.3,1426.6" fill="#ff00ff"/>
<polygon points="1342.9,1399.3 1330.5,1377.8 1355.3,1377.8" fill="#ff00ff"/>
<polygon points="1363.9,1312.8 1351.5,1291.3 1376.3,1291.3" fill="#ff00ff"/>
<polygon points="1384.9,1225.5 1372.5,1204.0 1397.3,1204.0" fill="#ff00ff"/>
<polygon points="1405.9,1140.9 1393.5,1119.4 1418.3,1119.4" fill="#ff00ff"/>
<polygon points="1426.9,1077.9 1414.5,1056.4 1439.3,1056.4" fill="#ff00ff"/>
<polygon points="1447.8,1049.0 1435.4,1027.5 1460.2,1027.5" fill="#ff00ff"/>
<polygon points="1468.8,1017.0 1456.4,995.5 1481.2,995.5" fill="#ff00ff"/>
<polygon points="1489.8,1013.5 1477.4,992.0 1502.2,992.0" fill="#ff00ff"/>
<polygon points="1510.8,1013.5 1498.4,992.0 1523.2,992.0" fill="#ff00ff"/>
<polygon points="1531.8,1030.4 1519.4,1008.9 1544.2,1008.9" fill="#ff00ff"/>
<polygon points="1552.8,1044.2 1540.4,1022.7 1565.2,1022.7" fill="#ff00ff"/>
<polygon points="1573.8,1061.4 1561.4,1039.9 1586.2,1039.9" fill="#ff00ff"/>
<polygon points="1594.7,1069.2 1582.3,1047.7 1607.1,1047.7" fill="#ff00ff"/>
<polygon points="1615.7,1118.1 1603.3,1096.6 1628.1,1096.6" fill="#ff00ff"/>
<polygon points="1636.7,1120.8 1624.3,1099.3 1649.1,1099.3" fill="#ff00ff"/>
<polygon points="1657.7,1127.5 1645.3,1106.0 1670.1,1106.0" fill="#ff00ff"/>
<polygon points="1678.7,1162.3 1666.3,1140.8 1691.1,1140.8" fill="#ff00ff"/>
<polygon points="1699.7,1181.9 1687.3,1160.4 1712.1,1160.4" fill="#ff00ff"/>
<polygon points="1720.7,1206.6 1708.3,1185.1 1733.1,1185.1" fill="#ff00ff"/>
<polygon points="1741.6,1220.5 1729.2,1199.0 1754.0,1199.0" fill="#ff00ff"/>
<polygon points="1762.6,1231.8 1750.2,1210.3 1775.0,1210.3" fill="#ff00ff"/>
<polygon points="1783.6,1244.8 1771.2,1223.3 1796.0,1223.3" fill="#ff00ff"/>
<polygon points="1804.6,1253.9 1792.2,1232.4 1817.0,1232.4" fill="#ff00ff"/>
<polygon points="1825.6,1261.6 1813.2,1240.1 1838.0,1240.1" fill="#ff00ff"/>
<polygon points="1846.6,1275.6 1834.2,1254.1 1859.0,1254.1" fill="#ff00ff"/>
<polygon points="1867.5,1285.6 1855.1,1264.1 1880.0,1264.1" fill="#ff00ff"/>
<polygon points="1888.5,1299.9 1876.1,1278.4 1900.9,1278.4" fill="#ff00ff"/>
<polygon points="1909.5,1306.8 1897.1,1285.3 1921.9,1285.3" fill="#ff00ff"/>
<polygon points="1930.5,1314.7 1918.1,1293.2 1942.9,1293.2" fill="#ff00ff"/>
<polygon points="1951.5,1320.7 1939.1,1299.2 1963.9,1299.2" fill="#ff00ff"/>
<polygon points="1972.5,1325.6 1960.1,1304.1 1984.9,1304.1" fill="#ff00ff"/>
<polygon points="1993.5,1333.6 1981.1,1312.1 2005.9,1312.1" fill="#ff00ff"/>
<polygon points="2014.4,1340.5 2002.0,1319.0 2026.8,1319.0" fill="#ff00ff"/>
<polygon points="2035.4,1346.9 2023.0,1325.4 2047.8,1325.4" fill="#ff00ff"/>
<polygon points="2056.4,1350.7 2044.0,1329.2 2068.8,1329.2" fill="#ff00ff"/>
<polygon points="2077.4,1359.5 2065.0,1338.0 2089.8,1338.0" fill="#ff00ff"/>
<polyline fill="none" stroke="#000000" stroke-width="6.6" stroke-linejoin="round" points="1259.0,1452.5 1280.0,1452.5 1301.0,1452.5 1321.9,1441.2 1342.9,1410.3 1363.9,1343.5 1384.9,1273.6 1405.9,1200.0 1426.9,1132.1 1447.8,1097.0 1468.8,1064.7 1489.8,1059.4 1510.8,1040.4 1531.8,1054.9 1552.8,1049.7 1573.8,1061.7 1594.7,1075.0 1615.7,1134.1 1636.7,1152.0 1657.7,1137.1 1678.7,1160.6 1699.7,1164.0 1720.7,1186.2 1741.6,1195.8 1762.6,1205.2 1783.6,1228.0 1804.6,1246.7 1825.6,1251.2 1846.6,1263.0 1867.5,1278.9 1888.5,1284.9 1909.5,1289.0 1930.5,1302.9 1951.5,1308.9 1972.5,1310.8 1993.5,1320.7 2014.4,1325.4 2035.4,1327.3 2056.4,1341.2 2077.4,1346.2"/>
<circle cx="1259.0" cy="1452.5" r="10.55" fill="#000000"/>
<circle cx="1280.0" cy="1452.5" r="10.55" fill="#000000"/>
<circle cx="1301.0" cy="1452.5" r="10.55" fill="#000000"/>
<circle cx="1321.9" cy="1441.2" r="10.55" fill="#000000"/>
<circle cx="1342.9" cy="1410.3" r="10.55" fill="#000000"/>
<circle cx="1363.9" cy="1343.5" r="10.55" fill="#000000"/>
<circle cx="1384.9" cy="1273.6" r="10.55" fill="#000000"/>
<circle cx="1405.9" cy="1200.0" r="10.55" fill="#000000"/>
<circle cx="1426.9" cy="1132.1" r="10.55" fill="#000000"/>
<circle cx="1447.8" cy="1097.0" r="10.55" fill="#000000"/>
<circle cx="1468.8" cy="1064.7" r="10.55" fill="#000000"/>
<circle cx="1489.8" cy="1059.4" r="10.55" fill="#000000"/>
<circle cx="1510.8" cy="1040.4" r="10.55" fill="#000000"/>
<circle cx="1531.8" cy="1054.9" r="10.55" fill="#000000"/>
<circle cx="1552.8" cy="1049.7" r="10.55" fill="#000000"/>
<circle cx="1573.8" cy="1061.7" r="10.55" fill="#000000"/>
<circle cx="1594.7" cy="1075.0" r="10.55" fill="#000000"/>
<circle cx="1615.7" cy="1134.1" r="10.55" fill="#000000"/>
<circle cx="1636.7" cy="1152.0" r="10.55" fill="#000000"/>
<circle cx="1657.7" cy="1137.1" r="10.55" fill="#000000"/>
<circle cx="1678.7" cy="1160.6" r="10.55" fill="#000000"/>
<circle cx="1699.7" cy="1164.0" r="10.55" fill="#000000"/>
<circle cx="1720.7" cy="1186.2" r="10.55" fill="#000000"/>
<circle cx="1741.6" cy="1195.8" r="10.55" fill="#000000"/>
<circle cx="1762.6" cy="1205.2" r="10.55" fill="#000000"/>
<circle cx="1783.6" cy="1228.0" r="10.55" fill="#000000"/>
<circle cx="1804.6" cy="1246.7" r="10.55" fill="#000000"/>
<circle cx="1825.6" cy="1251.2" r="10.55" fill="#000000"/>
<circle cx="1846.6" cy="1263.0" r="10.55" fill="#000000"/>
<circle cx="1867.5" cy="1278.9" r="10.55" fill="#000000"/>
<circle cx="1888.5" cy="1284.9" r="10.55" fill="#000000"/>
<circle cx="1909.5" cy="1289.0" r="10.55" fill="#000000"/>
<circle cx="1930.5" cy="1302.9" r="10.55" fill="#000000"/>
<circle cx="1951.5" cy="1308.9" r="10.55" fill="#000000"/>
<circle cx="1972.5" cy="1310.8" r="10.55" fill="#000000"/>
<circle cx="1993.5" cy="1320.7" r="10.55" fill="#000000"/>
<circle cx="2014.4" cy="1325.4" r="10.55" fill="#000000"/>
<circle cx="2035.4" cy="1327.3" r="10.55" fill="#000000"/>
<circle cx="2056.4" cy="1341.2" r="10.55" fill="#000000"/>
<circle cx="2077.4" cy="1346.2" r="10.55" fill="#000000"/>
<path d="M1290.46,868.00v15M1290.46,1452.50v-15M1342.92,868.00v15M1342.92,1452.50v-15M1395.39,868.00v15M1395.39,1452.50v-15M1447.85,868.00v23M1447.85,1452.50v-23M1500.31,868.00v15M1500.31,1452.50v-15M1552.78,868.00v15M1552.78,1452.50v-15M1605.24,868.00v15M1605.24,1452.50v-15M1657.70,868.00v23M1657.70,1452.50v-23M1710.16,868.00v15M1710.16,1452.50v-15M1762.62,868.00v15M1762.62,1452.50v-15M1815.09,868.00v15M1815.09,1452.50v-15M1867.55,868.00v23M1867.55,1452.50v-23M1920.01,868.00v15M1920.01,1452.50v-15M1972.47,868.00v15M1972.47,1452.50v-15M2024.94,868.00v15M2024.94,1452.50v-15M1238.00,1403.79h15M2077.40,1403.79h-15M1238.00,1355.08h15M2077.40,1355.08h-15M1238.00,1306.38h15M2077.40,1306.38h-15M1238.00,1257.67h23M2077.40,1257.67h-23M1238.00,1208.96h15M2077.40,1208.96h-15M1238.00,1160.25h15M2077.40,1160.25h-15M1238.00,1111.54h15M2077.40,1111.54h-15M1238.00,1062.83h23M2077.40,1062.83h-23M1238.00,1014.12h15M2077.40,1014.12h-15M1238.00,965.42h15M2077.40,965.42h-15M1238.00,916.71h15M2077.40,916.71h-15" stroke="#000" stroke-width="3.5" fill="none"/>
<path fill-rule="evenodd" fill="#000" d="M1236,866H2079V1454H1236ZM1240,870H2076V1451H1240Z"/></g>
</g>
<defs><filter id="bw" filterUnits="userSpaceOnUse" x="0" y="0" width="2331" height="1627" color-interpolation-filters="sRGB"><feComponentTransfer><feFuncA type="discrete" tableValues="0 1"/></feComponentTransfer></filter></defs>
<g filter="url(#bw)">
<text class="tk" x="252.3" y="155.8" text-anchor="middle">0</text>
<text class="tk" x="462.2" y="155.8" text-anchor="middle">1</text>
<text class="tk" x="672.0" y="155.8" text-anchor="middle">2</text>
<text class="tk" x="881.8" y="155.8" text-anchor="middle">3</text>
<text class="tk" x="1091.7" y="155.8" text-anchor="middle">4</text>
<text class="tk" x="236.0" y="779.6" text-anchor="end">0</text>
<text class="tk" x="236.0" y="584.8" text-anchor="end">1000</text>
<text class="tk" x="236.0" y="389.9" text-anchor="end">2000</text>
<text class="tk" x="236.0" y="195.1" text-anchor="end">3000</text>
<text class="ax" x="672.2" y="95.4" text-anchor="middle">T</text>
<text class="ax" transform="translate(89,466.6) rotate(-90)" text-anchor="middle">SNR</text>
<text class="tk" x="1238.3" y="155.8" text-anchor="middle">0</text>
<text class="tk" x="1448.1" y="155.8" text-anchor="middle">1</text>
<text class="tk" x="1658.0" y="155.8" text-anchor="middle">2</text>
<text class="tk" x="1867.8" y="155.8" text-anchor="middle">3</text>
<text class="tk" x="2077.7" y="155.8" text-anchor="middle">4</text>
<text class="tk" x="2095.6" y="779.6" text-anchor="start">0</text>
<text class="tk" x="2092.6" y="584.8" text-anchor="start">1000</text>
<text class="tk" x="2095.3" y="389.9" text-anchor="start">2000</text>
<text class="tk" x="2094.6" y="195.1" text-anchor="start">3000</text>
<text class="ax" x="1658.2" y="95.4" text-anchor="middle">T</text>
<text class="ax" transform="translate(2298,466.6) rotate(-90)" text-anchor="middle">SNR</text>
<text class="tk" x="252.3" y="1513.0" text-anchor="middle">0</text>
<text class="tk" x="462.2" y="1513.0" text-anchor="middle">1</text>
<text class="tk" x="672.0" y="1513.0" text-anchor="middle">2</text>
<text class="tk" x="881.8" y="1513.0" text-anchor="middle">3</text>
<text class="tk" x="1091.7" y="1513.0" text-anchor="middle">4</text>
<text class="tk" x="236.0" y="1473.6" text-anchor="end">0</text>
<text class="tk" x="236.0" y="1278.8" text-anchor="end">1000</text>
<text class="tk" x="236.0" y="1083.9" text-anchor="end">2000</text>
<text class="tk" x="236.0" y="889.1" text-anchor="end">3000</text>
<text class="ax" x="672.2" y="1590.5" text-anchor="middle">T</text>
<text class="ax" transform="translate(89,1160.5) rotate(-90)" text-anchor="middle">SNR</text>
<text class="tk" x="1238.3" y="1513.0" text-anchor="middle">0</text>
<text class="tk" x="1448.1" y="1513.0" text-anchor="middle">1</text>
<text class="tk" x="1658.0" y="1513.0" text-anchor="middle">2</text>
<text class="tk" x="1867.8" y="1513.0" text-anchor="middle">3</text>
<text class="tk" x="2077.7" y="1513.0" text-anchor="middle">4</text>
<text class="tk" x="2095.6" y="1473.6" text-anchor="start">0</text>
<text class="tk" x="2092.6" y="1278.8" text-anchor="start">1000</text>
<text class="tk" x="2095.3" y="1083.9" text-anchor="start">2000</text>
<text class="tk" x="2094.6" y="889.1" text-anchor="start">3000</text>
<text class="ax" x="1658.2" y="1590.5" text-anchor="middle">T</text>
<text class="ax" transform="translate(2298,1160.5) rotate(-90)" text-anchor="middle">SNR</text>
<text class="an" style="font-size:86px" x="470.5" y="631.3">τ</text>
<text class="an" transform="translate(521.2,635.0) scale(1.114,0.956)">=</text>
<text class="an" x="586.3" y="631.3">128</text>
<text class="an" style="font-size:86px" x="1456.5" y="631.3">τ</text>
<text class="an" transform="translate(1507.2,635.0) scale(1.114,0.956)">=</text>
<text class="an" x="1572.3" y="631.3">256</text>
<text class="an" style="font-size:86px" x="470.5" y="1325.3">τ</text>
<text class="an" transform="translate(521.2,1329.0) scale(1.114,0.956)">=</text>
<text class="an" x="586.3" y="1325.3">512</text>
<text class="an" style="font-size:86px" x="1456.5" y="1325.3">τ</text>
<text class="an" transform="translate(1507.2,1329.0) scale(1.114,0.956)">=</text>
<text class="an" x="1572.3" y="1325.3">1024</text>
</g>
<g shape-rendering="crispEdges"><rect x="690" y="685.8" width="521.0" height="378.5" fill="#fff" stroke="#000" stroke-width="3.7"/>
<line x1="720.5" x2="793.8" y1="726.5" y2="726.5" stroke="#ff0000" stroke-width="6.6"/>
<rect x="710.8" y="716.8" width="19.5" height="19.5" fill="#ff0000"/>
<rect x="784.0" y="716.8" width="19.5" height="19.5" fill="#ff0000"/>
<line x1="720.5" x2="793.8" y1="797.4" y2="797.4" stroke="#0000ff" stroke-width="6.6"/>
<polygon points="720.5,783.1 708.1,804.6 732.9,804.6" fill="#0000ff"/>
<polygon points="793.8,783.1 781.4,804.6 806.2,804.6" fill="#0000ff"/>
<line x1="720.5" x2="793.8" y1="874.4" y2="874.4" stroke="#008b00" stroke-width="6.6"/>
<polygon points="720.5,860.9 707.0,874.4 720.5,887.9 734.0,874.4" fill="#008b00"/>
<polygon points="793.8,860.9 780.3,874.4 793.8,887.9 807.3,874.4" fill="#008b00"/>
<line x1="720.5" x2="793.8" y1="952.4" y2="952.4" stroke="#ff00ff" stroke-width="6.6"/>
<polygon points="720.5,966.7 708.1,945.2 732.9,945.2" fill="#ff00ff"/>
<polygon points="793.8,966.7 781.4,945.2 806.2,945.2" fill="#ff00ff"/>
<line x1="720.5" x2="793.8" y1="1023.5" y2="1023.5" stroke="#000000" stroke-width="6.6"/>
<circle cx="720.5" cy="1023.5" r="10.55" fill="#000000"/>
<circle cx="793.8" cy="1023.5" r="10.55" fill="#000000"/>
</g>
<g filter="url(#bw)">
<text class="lg" x="821.6" y="748.5">1D</text>
<text class="lg" x="821.6" y="811.8">2D hexagonal</text>
<text class="lg" x="821.6" y="889.5">2D square</text>
<text class="lg" x="821.6" y="967.3">2D triangular</text>
<text class="lg" x="821.6" y="1044.3">CG</text>
</g>
</svg></body></html>
